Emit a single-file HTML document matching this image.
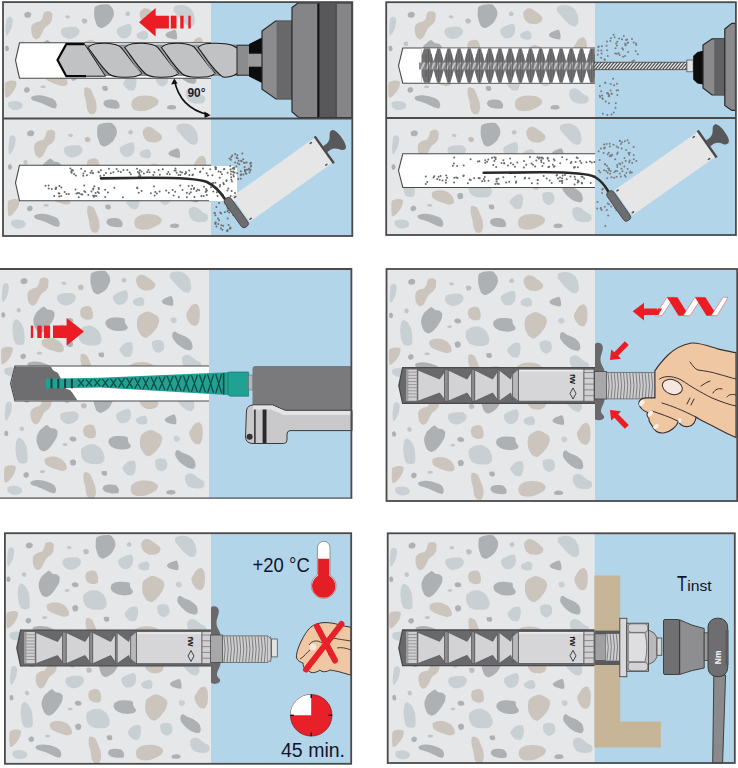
<!DOCTYPE html>
<html><head><meta charset="utf-8"><style>
html,body{margin:0;padding:0;background:#fff;width:738px;height:768px;overflow:hidden}
svg{display:block}
text{font-family:"Liberation Sans",sans-serif}
</style></head><body>
<svg width="738" height="768" viewBox="0 0 738 768">
<defs>
<g id="tile">
<path d="M5.0 17.1C5.5 16.3 8.2 15.7 8.8 15.9C9.5 16.2 10.6 18.0 10.7 19.2C10.8 20.4 10.1 24.8 9.7 26.3C9.3 27.8 7.7 31.0 7.1 32.0C6.5 33.0 5.0 35.0 4.6 34.9C4.1 34.7 3.6 32.0 3.6 30.6C3.5 29.2 3.8 24.3 4.0 22.8C4.1 21.2 4.4 17.9 5.0 17.1Z" fill="#c8d0d4"/>
<path d="M22.8 12.1C23.2 11.5 25.6 10.6 26.3 10.7C27.1 10.7 28.9 12.0 29.2 12.5C29.4 13.1 29.2 14.9 28.7 15.4C28.3 15.9 26.3 16.8 25.6 16.8C24.9 16.8 22.8 15.9 22.5 15.4C22.1 14.8 22.3 12.6 22.8 12.1Z" fill="#aeb1b3"/>
<path d="M42.0 11.4C42.7 10.7 46.0 10.1 46.9 10.2C47.9 10.4 49.7 11.5 50.1 12.5C50.4 13.6 50.1 18.0 49.8 19.2C49.5 20.4 48.5 21.8 47.7 22.8C46.8 23.7 43.5 26.0 42.7 27.0C41.9 28.0 41.1 30.2 40.5 31.3C40.0 32.4 38.4 35.4 37.7 36.3C37.0 37.1 35.0 38.5 34.1 38.4C33.3 38.3 31.2 36.6 30.6 35.6C30.0 34.5 29.2 30.5 29.2 29.2C29.1 27.8 29.3 25.1 29.9 24.2C30.5 23.3 33.1 21.8 34.1 21.3C35.1 20.8 37.7 20.5 38.4 19.9C39.2 19.3 40.1 17.4 40.5 16.4C41.0 15.4 41.2 12.1 42.0 11.4Z" fill="#cbc5be"/>
<path d="M63.3 14.9C63.6 14.6 65.6 14.1 66.2 14.2C66.7 14.3 67.9 15.6 68.0 15.9C68.1 16.3 67.3 17.2 66.9 17.4C66.4 17.5 64.4 17.4 64.0 17.1C63.6 16.8 63.1 15.3 63.3 14.9Z" fill="#c3c6c8"/>
<path d="M79.7 18.5C79.9 17.9 82.6 17.3 83.2 17.4C83.9 17.4 85.2 18.7 85.4 19.2C85.5 19.8 85.1 21.7 84.6 22.1C84.2 22.4 81.7 22.9 81.1 22.5C80.5 22.1 79.4 19.1 79.7 18.5Z" fill="#c2bdb8"/>
<path d="M93.2 5.7C94.1 5.0 98.0 3.8 99.6 3.6C101.2 3.4 105.5 3.0 106.8 3.6C108.1 4.2 110.5 7.3 111.1 8.5C111.7 9.7 112.1 12.7 111.8 14.2C111.5 15.7 109.2 20.1 108.3 21.3C107.4 22.5 105.0 24.2 104.0 24.9C103.0 25.6 100.6 27.0 99.6 27.0C98.6 27.0 96.1 26.1 95.3 24.9C94.5 23.7 92.9 18.8 92.5 17.1C92.1 15.4 92.1 11.3 92.2 10.0C92.3 8.7 92.3 6.4 93.2 5.7Z" fill="#aeb1b3"/>
<path d="M59.8 27.7C60.5 27.0 63.8 26.1 65.4 25.9C67.1 25.7 72.6 25.5 74.0 25.9C75.4 26.3 77.3 28.2 77.5 29.2C77.8 30.1 76.9 33.2 76.1 34.1C75.4 35.1 72.3 36.8 71.1 37.3C70.0 37.7 67.3 38.3 66.2 38.1C65.0 37.9 62.0 36.3 61.2 35.6C60.3 34.9 59.2 32.9 59.0 32.0C58.9 31.1 59.0 28.5 59.8 27.7Z" fill="#c8d0d4"/>
<path d="M18.5 41.3C18.8 40.8 20.8 40.4 21.3 40.5C21.8 40.7 22.7 42.1 22.8 42.7C22.8 43.2 22.1 45.0 21.6 45.2C21.2 45.4 19.1 44.9 18.8 44.4C18.4 43.9 18.2 41.7 18.5 41.3Z" fill="#c3c6c8"/>
<path d="M3.1 45.8C3.4 45.2 5.2 44.6 5.7 44.8C6.2 45.0 7.1 47.0 7.1 47.7C7.1 48.3 6.4 49.8 6.0 50.1C5.6 50.3 3.9 50.3 3.6 49.8C3.2 49.3 2.9 46.4 3.1 45.8Z" fill="#aeb1b3"/>
<path d="M37.7 45.5C38.4 44.4 40.3 42.7 41.3 42.0C42.2 41.2 44.6 39.1 45.5 39.1C46.4 39.1 48.2 41.6 49.1 42.0C50.0 42.4 52.5 42.3 53.4 42.7C54.2 43.1 55.9 44.5 56.2 45.5C56.4 46.5 56.1 49.7 55.5 51.2C54.9 52.7 52.2 56.9 51.2 58.3C50.2 59.7 47.9 62.5 46.9 63.3C46.0 64.1 43.7 65.4 42.7 65.4C41.7 65.4 39.2 64.3 38.4 63.3C37.6 62.3 35.9 58.3 35.6 56.9C35.2 55.5 35.0 52.5 35.3 51.2C35.5 49.9 37.0 46.6 37.7 45.5Z" fill="#aeb1b3"/>
<path d="M83.2 40.5C84.0 39.8 87.1 38.8 88.2 38.7C89.3 38.6 91.7 39.0 92.5 39.8C93.2 40.6 94.4 44.2 94.6 45.5C94.8 46.9 94.6 50.4 93.9 51.2C93.1 52.0 89.5 52.5 88.2 52.4C87.0 52.2 84.0 50.7 83.2 49.8C82.5 48.9 81.8 45.9 81.8 44.8C81.8 43.7 82.5 41.3 83.2 40.5Z" fill="#cbc5be"/>
<path d="M68.6 51.5C69.0 51.1 71.1 50.5 71.8 50.5C72.6 50.6 74.4 51.4 74.7 51.9C75.0 52.4 75.1 54.4 74.7 54.8C74.3 55.2 71.8 55.6 71.1 55.5C70.4 55.4 68.9 54.5 68.6 54.1C68.3 53.6 68.2 51.9 68.6 51.5Z" fill="#aeb1b3"/>
<path d="M61.5 58.0C61.7 57.7 63.5 57.2 64.0 57.2C64.6 57.2 66.1 58.0 66.2 58.3C66.2 58.7 65.2 59.9 64.7 60.0C64.2 60.2 62.3 60.0 61.9 59.8C61.5 59.5 61.2 58.3 61.5 58.0Z" fill="#c3c6c8"/>
<path d="M15.4 54.1C15.7 53.3 17.0 51.8 17.8 51.9C18.6 52.0 21.2 53.7 22.1 54.8C22.9 55.9 24.8 59.4 25.3 61.2C25.8 62.9 26.3 68.0 26.3 69.7C26.4 71.5 26.3 75.2 25.9 76.1C25.5 77.0 23.7 77.5 22.8 77.5C21.8 77.6 18.6 77.4 17.8 76.8C17.0 76.2 16.1 74.1 15.6 72.6C15.2 71.1 14.4 65.7 14.2 64.0C14.1 62.4 14.4 59.5 14.5 58.3C14.6 57.2 15.0 54.8 15.4 54.1Z" fill="#c8d0d4"/>
<path d="M80.4 62.6C81.1 61.8 84.6 59.5 86.1 59.0C87.6 58.6 91.6 58.2 93.2 58.6C94.8 59.0 98.5 61.5 99.6 62.6C100.7 63.7 102.3 67.0 102.7 68.3C103.1 69.6 103.5 72.9 103.1 74.0C102.8 75.1 101.0 77.1 99.6 77.5C98.2 78.0 92.9 78.1 91.1 78.0C89.2 77.8 85.2 76.9 83.9 76.1C82.7 75.3 80.9 72.3 80.4 71.1C79.9 70.0 79.7 67.2 79.7 66.2C79.7 65.2 79.6 63.4 80.4 62.6Z" fill="#c8d0d4"/>
<path d="M43.4 73.3C43.9 72.4 47.0 71.1 48.4 70.8C49.8 70.6 54.0 70.8 55.5 71.1C57.0 71.5 60.1 73.1 61.2 74.0C62.3 74.8 64.2 77.2 64.7 78.2C65.2 79.3 65.9 82.4 65.4 83.2C65.0 84.0 62.5 85.1 61.2 85.1C59.8 85.1 55.6 83.7 54.1 83.2C52.6 82.8 49.5 81.7 48.4 81.1C47.2 80.5 44.7 79.2 44.1 78.2C43.5 77.3 42.9 74.1 43.4 73.3Z" fill="#cbc5be"/>
<path d="M69.0 74.7C69.4 74.2 71.6 73.2 72.3 73.3C72.9 73.4 74.5 74.7 74.7 75.4C74.9 76.1 74.5 78.5 74.0 79.0C73.5 79.5 71.0 79.8 70.4 79.7C69.8 79.5 69.2 78.1 69.0 77.5C68.8 77.0 68.6 75.2 69.0 74.7Z" fill="#aeb1b3"/>
<path d="M3.6 81.1C4.2 80.4 7.3 79.5 8.5 79.4C9.8 79.3 13.6 79.7 14.2 80.4C14.9 81.1 14.3 84.2 13.9 85.4C13.6 86.5 12.2 89.2 11.4 90.3C10.6 91.5 8.0 94.6 7.1 95.3C6.2 96.1 4.1 97.2 3.6 96.7C3.1 96.2 2.9 92.4 2.8 91.1C2.8 89.7 2.8 86.5 2.8 85.4C2.9 84.2 2.9 81.8 3.6 81.1Z" fill="#cbc5be"/>
<path d="M22.5 87.5C22.9 87.0 24.7 86.0 25.3 86.1C25.9 86.2 27.6 87.6 27.7 88.2C27.9 88.8 27.2 90.6 26.7 91.1C26.3 91.5 24.4 91.9 23.9 91.8C23.4 91.6 22.2 90.4 22.1 89.9C21.9 89.4 22.1 87.9 22.5 87.5Z" fill="#aeb1b3"/>
<path d="M38.4 85.4C38.6 85.0 40.6 84.2 41.3 84.2C41.9 84.2 43.7 85.0 43.8 85.4C44.0 85.7 43.2 86.9 42.7 87.1C42.2 87.3 40.0 87.3 39.6 87.1C39.1 86.9 38.2 85.7 38.4 85.4Z" fill="#c3c6c8"/>
<path d="M29.9 95.6C30.6 95.2 34.1 94.3 35.6 94.2C37.1 94.1 41.1 94.6 42.7 94.9C44.3 95.2 47.8 96.5 49.1 97.1C50.3 97.6 52.7 99.1 53.4 99.9C54.0 100.7 54.8 103.3 54.8 104.2C54.8 105.0 54.0 107.2 53.4 107.4C52.7 107.7 50.3 107.0 49.1 106.6C47.8 106.1 44.1 104.1 42.7 103.5C41.3 102.8 38.4 101.8 37.0 101.3C35.6 100.8 31.5 99.6 30.6 99.2C29.7 98.7 29.2 97.9 29.2 97.5C29.1 97.1 29.1 96.0 29.9 95.6Z" fill="#aeb1b3"/>
<path d="M82.5 87.1C82.9 86.3 84.6 86.2 85.4 86.4C86.1 86.5 88.2 87.5 88.9 88.5C89.7 89.5 91.2 93.5 91.8 94.9C92.3 96.3 93.6 99.1 93.9 100.6C94.2 102.1 94.8 106.3 94.6 107.7C94.4 109.1 93.2 112.1 92.5 112.7C91.7 113.3 89.0 113.5 88.2 113.1C87.4 112.7 85.9 110.6 85.4 109.1C84.9 107.7 84.3 102.4 83.9 100.6C83.6 98.8 82.4 95.1 82.2 93.5C82.1 91.9 82.2 87.9 82.5 87.1Z" fill="#cbc5be"/>
<path d="M100.3 85.7C100.6 85.2 103.2 85.0 103.9 85.2C104.5 85.5 105.9 87.3 106.0 87.8C106.1 88.4 105.1 89.8 104.6 89.9C104.0 90.1 101.5 89.7 101.0 89.2C100.5 88.7 100.0 86.1 100.3 85.7Z" fill="#aeb1b3"/>
<path d="M6.4 101.3C7.0 100.7 10.1 100.0 11.4 99.9C12.6 99.8 16.0 100.2 17.1 100.6C18.2 101.0 20.3 102.7 20.6 103.5C21.0 104.2 20.5 106.4 19.9 107.0C19.3 107.6 16.8 108.7 15.6 108.9C14.5 109.0 11.0 108.8 10.0 108.4C8.9 108.1 6.8 106.4 6.4 105.6C6.0 104.8 5.8 102.0 6.4 101.3Z" fill="#c8d0d4"/>
<path d="M101.5 103.0C101.3 102.2 102.1 100.2 103.0 99.6C103.9 99.1 107.4 98.5 108.8 98.5C110.2 98.5 113.6 98.8 114.6 99.4C115.6 99.9 117.2 102.4 117.5 103.3C117.8 104.2 117.5 106.7 116.8 107.2C116.0 107.7 112.4 107.7 111.0 107.6C109.5 107.5 105.6 106.7 104.4 106.2C103.3 105.6 101.7 103.8 101.5 103.0Z" fill="#aeb1b3"/>
<path d="M123.2 12.1C123.5 11.6 125.5 10.2 126.1 10.2C126.6 10.3 128.1 12.0 128.2 12.5C128.3 13.1 127.3 14.7 126.8 14.9C126.3 15.2 124.3 14.8 123.9 14.5C123.5 14.2 123.0 12.6 123.2 12.1Z" fill="#c3c6c8"/>
<path d="M138.1 10.7C138.6 9.8 140.8 7.7 141.7 7.4C142.6 7.1 144.7 7.3 146.0 7.8C147.2 8.4 151.1 11.1 152.4 12.1C153.6 13.1 156.5 15.4 156.9 16.4C157.3 17.4 156.6 19.8 155.9 20.6C155.2 21.4 152.2 22.8 150.9 23.0C149.7 23.3 146.5 23.1 145.3 22.8C144.0 22.4 141.1 20.8 140.3 19.9C139.4 19.0 138.1 16.0 137.9 14.9C137.6 13.9 137.7 11.5 138.1 10.7Z" fill="#cbc5be"/>
<path d="M172.3 5.7C173.0 5.0 176.6 4.1 178.0 4.0C179.4 3.9 183.1 4.4 184.4 5.0C185.7 5.5 188.4 7.5 189.4 8.5C190.3 9.6 191.8 12.7 192.2 14.2C192.6 15.7 193.2 20.0 192.9 21.3C192.7 22.6 191.0 25.0 190.1 25.3C189.2 25.7 186.3 24.9 185.1 24.2C183.8 23.5 180.6 20.4 179.4 19.2C178.2 18.0 176.0 15.3 175.1 14.2C174.2 13.1 171.9 11.0 171.6 10.0C171.2 9.0 171.5 6.4 172.3 5.7Z" fill="#c8d0d4"/>
<path d="M115.4 27.7C116.1 27.0 119.7 25.1 121.1 24.5C122.5 23.9 126.5 22.5 127.5 22.8C128.5 23.0 129.4 25.2 129.6 26.3C129.8 27.5 129.4 31.5 128.9 32.7C128.4 33.9 126.4 36.2 125.3 36.7C124.3 37.2 120.7 37.6 119.6 37.3C118.6 37.0 116.7 34.9 116.1 34.1C115.5 33.4 114.8 31.3 114.7 30.6C114.6 29.8 114.6 28.5 115.4 27.7Z" fill="#c8d0d4"/>
<path d="M134.6 33.4C134.9 32.7 137.8 31.0 138.9 30.6C139.9 30.2 143.0 29.5 143.8 29.9C144.7 30.2 145.8 32.5 146.0 33.4C146.1 34.3 145.8 37.1 145.3 37.7C144.7 38.3 142.1 38.7 141.0 38.7C139.9 38.6 136.8 37.9 136.0 37.3C135.3 36.7 134.3 34.2 134.6 33.4Z" fill="#c8d0d4"/>
<path d="M163.5 33.4C163.7 32.8 166.2 31.1 167.3 30.6C168.4 30.0 172.1 28.5 173.0 28.7C173.9 29.0 174.6 31.6 174.8 32.7C175.1 33.8 175.3 37.5 174.8 38.1C174.4 38.8 172.0 38.3 170.9 38.1C169.7 37.9 166.0 36.8 165.2 36.3C164.3 35.7 163.2 34.1 163.5 33.4Z" fill="#aeb1b3"/>
<path d="M190.1 42.7C190.7 41.6 192.7 38.4 193.6 37.7C194.5 37.0 197.1 36.0 197.9 36.3C198.7 36.5 200.3 38.6 200.7 39.8C201.2 41.1 201.5 45.3 201.5 46.9C201.5 48.6 201.2 52.7 200.7 54.1C200.3 55.4 198.7 57.9 197.9 58.3C197.1 58.7 194.6 58.3 193.6 57.6C192.6 57.0 190.0 53.9 189.4 52.6C188.7 51.4 187.9 48.1 187.9 46.9C188.0 45.8 189.4 43.8 190.1 42.7Z" fill="#cbc5be"/>
<path d="M108.3 52.6C108.9 52.0 111.2 50.8 112.5 50.5C113.9 50.2 118.1 50.0 119.6 50.1C121.2 50.2 125.2 50.6 126.1 51.2C126.9 51.8 126.3 54.5 126.8 55.5C127.2 56.5 129.5 58.9 129.6 59.8C129.7 60.6 128.5 62.1 127.5 62.6C126.5 63.1 122.6 63.7 121.1 63.7C119.5 63.7 115.4 63.1 114.0 62.6C112.5 62.1 109.8 60.5 109.0 59.8C108.2 59.0 107.2 57.0 107.1 56.2C107.0 55.4 107.6 53.3 108.3 52.6Z" fill="#aeb1b3"/>
<path d="M139.6 49.8C140.2 48.6 142.7 46.9 143.8 46.2C145.0 45.6 148.3 44.2 149.5 44.1C150.8 44.1 153.3 45.2 154.5 45.8C155.7 46.4 158.7 48.2 159.5 49.1C160.2 50.0 161.0 52.1 160.9 53.4C160.8 54.6 159.6 58.3 158.8 59.8C157.9 61.2 155.0 64.9 153.8 66.2C152.5 67.4 149.3 70.2 148.1 70.4C146.9 70.7 144.1 69.2 143.1 68.3C142.1 67.4 140.1 64.0 139.6 62.6C139.0 61.2 138.6 57.7 138.6 56.2C138.6 54.7 139.0 51.0 139.6 49.8Z" fill="#cbc5be"/>
<path d="M172.3 51.2C172.5 50.6 174.5 49.8 175.1 49.8C175.8 49.8 177.6 50.7 178.0 51.2C178.3 51.7 178.5 53.5 178.3 54.1C178.0 54.6 176.5 55.7 175.8 55.8C175.2 55.9 173.4 55.3 173.0 54.8C172.6 54.2 172.0 51.8 172.3 51.2Z" fill="#c8d0d4"/>
<path d="M174.4 65.4C174.7 64.8 175.7 63.9 176.6 64.0C177.4 64.2 180.2 66.2 181.5 66.9C182.9 67.5 186.6 68.9 187.9 69.7C189.3 70.5 192.2 72.8 192.9 74.0C193.7 75.1 194.4 78.6 194.3 79.7C194.3 80.7 193.1 82.6 192.2 82.8C191.3 83.0 187.8 82.3 186.5 81.8C185.2 81.3 182.0 79.2 180.8 78.2C179.7 77.3 177.4 75.0 176.6 74.0C175.8 73.0 174.2 70.7 174.0 69.7C173.7 68.7 174.1 66.1 174.4 65.4Z" fill="#aeb1b3"/>
<path d="M122.5 79.7C123.2 78.8 126.2 75.9 127.5 75.4C128.7 74.9 132.3 74.6 133.2 75.1C134.0 75.6 134.5 78.5 134.6 79.7C134.7 80.9 134.2 84.2 133.9 85.4C133.5 86.5 132.6 88.9 131.7 89.3C130.9 89.8 127.8 89.7 126.8 89.3C125.8 89.0 123.9 86.9 123.2 86.1C122.5 85.3 121.2 83.3 121.1 82.5C121.0 81.8 121.7 80.5 122.5 79.7Z" fill="#c8d0d4"/>
<path d="M153.8 74.7C154.2 73.7 156.9 72.7 158.1 72.6C159.2 72.4 162.8 72.7 163.8 73.3C164.7 73.8 165.7 76.5 165.9 77.5C166.1 78.6 165.8 81.6 165.2 82.5C164.6 83.4 161.8 85.1 160.9 85.4C160.0 85.6 158.1 85.1 157.4 84.6C156.6 84.2 154.9 82.3 154.5 81.1C154.1 79.9 153.4 75.7 153.8 74.7Z" fill="#c8d0d4"/>
<path d="M184.2 89.5C184.8 88.6 187.6 87.4 188.6 87.3C189.6 87.2 191.9 88.2 192.9 88.8C194.0 89.4 196.2 91.6 197.3 92.4C198.4 93.2 201.7 94.5 202.4 95.3C203.0 96.1 203.3 98.8 203.1 99.6C202.8 100.5 201.4 101.9 200.2 102.3C199.0 102.6 194.5 102.8 192.9 102.5C191.4 102.3 188.2 101.2 187.1 100.4C186.1 99.5 184.3 96.6 184.0 95.3C183.6 94.0 183.7 90.4 184.2 89.5Z" fill="#c8d0d4"/>
<path d="M130.5 98.9C131.4 97.9 134.7 95.8 136.3 95.3C138.0 94.8 143.2 94.5 145.0 94.6C146.9 94.7 150.9 95.4 152.3 96.0C153.7 96.6 156.3 98.7 156.6 99.6C157.0 100.6 156.0 103.1 155.2 104.0C154.4 104.9 150.8 106.9 149.4 107.6C148.0 108.3 145.1 109.5 143.6 109.8C142.1 110.1 137.8 110.3 136.3 110.1C134.9 109.9 132.1 109.1 131.3 108.3C130.5 107.6 129.5 105.1 129.4 104.0C129.3 102.9 129.7 99.9 130.5 98.9Z" fill="#cbc5be"/>
<path d="M165.3 105.4C165.7 105.0 168.0 104.1 169.0 104.0C169.9 103.9 172.7 104.3 173.3 104.7C173.9 105.1 174.5 107.2 174.0 107.6C173.6 108.1 170.7 108.6 169.7 108.6C168.7 108.7 166.1 108.4 165.6 108.1C165.1 107.7 165.0 105.9 165.3 105.4Z" fill="#aeb1b3"/>
<path d="M104.0 85.4C104.1 85.0 105.0 84.8 105.1 85.1C105.3 85.3 105.6 87.1 105.4 87.5C105.3 87.9 104.2 88.5 104.0 88.2C103.8 88.0 103.9 85.7 104.0 85.4Z" fill="#aeb1b3"/></g>
<g id="tex"><use href="#tile"/><use href="#tile" transform="translate(3 118.5)"/></g>
</defs>
<clipPath id="c1a"><rect x="3" y="3" width="208" height="115"/></clipPath>
<rect x="3" y="3" width="208" height="115" fill="#e6e7e9"/>
<g clip-path="url(#c1a)"><use href="#tex" transform="translate(2 1)"/></g>
<rect x="211" y="3" width="141" height="115" fill="#b3d5e9"/>
<clipPath id="c1b"><rect x="3" y="119" width="208" height="117"/></clipPath>
<rect x="3" y="119" width="208" height="117" fill="#e6e7e9"/>
<g clip-path="url(#c1b)"><use href="#tex" transform="translate(2 1)"/></g>
<rect x="211" y="119" width="141" height="117" fill="#b3d5e9"/>
<clipPath id="c2a"><rect x="387" y="3" width="208" height="115"/></clipPath>
<rect x="387" y="3" width="208" height="115" fill="#e6e7e9"/>
<g clip-path="url(#c2a)"><use href="#tex" transform="translate(385.5 1)"/></g>
<rect x="595" y="3" width="141" height="115" fill="#b3d5e9"/>
<clipPath id="c2b"><rect x="387" y="119" width="208" height="116"/></clipPath>
<rect x="387" y="119" width="208" height="116" fill="#e6e7e9"/>
<g clip-path="url(#c2b)"><use href="#tex" transform="translate(385.5 1)"/></g>
<rect x="595" y="119" width="141" height="116" fill="#b3d5e9"/>
<clipPath id="c3"><rect x="0" y="270" width="209" height="228"/></clipPath>
<rect x="0" y="270" width="209" height="228" fill="#e6e7e9"/>
<g clip-path="url(#c3)"><use href="#tex" transform="translate(-1.6999999999999886 267.4)"/></g>
<rect x="209" y="270" width="142" height="228" fill="#b3d5e9"/>
<clipPath id="c4"><rect x="387" y="270" width="208" height="231"/></clipPath>
<rect x="387" y="270" width="208" height="231" fill="#e6e7e9"/>
<g clip-path="url(#c4)"><use href="#tex" transform="translate(386 268)"/></g>
<rect x="595" y="270" width="142" height="231" fill="#b3d5e9"/>
<clipPath id="c5"><rect x="5" y="534" width="206" height="229"/></clipPath>
<rect x="5" y="534" width="206" height="229" fill="#e6e7e9"/>
<g clip-path="url(#c5)"><use href="#tex" transform="translate(3.5 531.7)"/></g>
<rect x="211" y="534" width="140" height="229" fill="#b3d5e9"/>
<clipPath id="c6"><rect x="388" y="534" width="206.5" height="229"/></clipPath>
<rect x="388" y="534" width="206.5" height="229" fill="#e6e7e9"/>
<g clip-path="url(#c6)"><use href="#tex" transform="translate(386.3 531.8)"/></g>
<rect x="594.5" y="534" width="140" height="229" fill="#b3d5e9"/>
<path d="M211 42.8 L19.5 42.8 L15.5 60.3 L19.5 78.2 L211 78.2" fill="#fff" stroke="#4a4a4c" stroke-width="1.1"/>
<path d="M84 44.6 L236 44.6 L243 60 L238 76 L84 76 Z" fill="#8e8f91"/><path d="M88 47.5 C92 43.2 98 43 106 43.2 C111.7 43.4 117.7 44.5 120.7 47.2 C127.7 55 134.7 66 141.7 73.3 C137.7 77.3 131.7 77.4 123.69999999999999 77.3 C119 77.2 112 76.5 109 74 C100 66 94 55 88 47.5 Z" fill="#c1c2c4" stroke="#1a1a1a" stroke-width="1.05"/><path d="M124.7 47.5 C128.7 43.2 134.7 43 142.7 43.2 C148.4 43.4 154.4 44.5 157.4 47.2 C164.4 55 171.4 66 178.4 73.3 C174.4 77.3 168.4 77.4 160.4 77.3 C155.7 77.2 148.7 76.5 145.7 74 C136.7 66 130.7 55 124.7 47.5 Z" fill="#c1c2c4" stroke="#1a1a1a" stroke-width="1.05"/><path d="M161.4 47.5 C165.4 43.2 171.4 43 179.4 43.2 C185.1 43.4 191.1 44.5 194.1 47.2 C201.1 55 208.1 66 215.1 73.3 C211.1 77.3 205.1 77.4 197.1 77.3 C192.4 77.2 185.4 76.5 182.4 74 C173.4 66 167.4 55 161.4 47.5 Z" fill="#c1c2c4" stroke="#1a1a1a" stroke-width="1.05"/><path d="M198.1 47.5 C202.1 43.2 208.1 43 216.1 43.2 C228.1 43.4 236.1 45 240.6 52 C243.1 57 243.1 65 240.1 70 C236.1 76 231.1 77.3 224.1 77.2 C222.1 77.2 222.1 76.5 219.1 74 C210.1 66 204.1 55 198.1 47.5 Z" fill="#c1c2c4" stroke="#1a1a1a" stroke-width="1.05"/><path d="M85.2 46 C92 55 98 65 104.5 74" fill="none" stroke="#a9aaac" stroke-width="1"/><path d="M121.9 46 C128.7 55 134.7 65 141.2 74" fill="none" stroke="#a9aaac" stroke-width="1"/><path d="M158.6 46 C165.4 55 171.4 65 177.9 74" fill="none" stroke="#a9aaac" stroke-width="1"/><path d="M195.29999999999998 46 C202.1 55 208.1 65 214.6 74" fill="none" stroke="#a9aaac" stroke-width="1"/><path d="M57.5 60 L66.3 44.2 L84.5 44.2 C90 52 96 62 105.5 76.2 L66.3 76.2 Z" fill="#c1c2c4" stroke="#1a1a1a" stroke-width="1"/><path d="M84.5 44.2 L66.3 44.2 L57.5 60 L66.3 76.2 L86 76.2" fill="none" stroke="#0a0a0a" stroke-width="2.2" stroke-linejoin="miter"/>
<rect x="237" y="45.2" width="12.5" height="30" fill="#8b8c8e" stroke="#222" stroke-width="1"/>
<path d="M249 44 L262 37.4 L262 83 L249 76.4 Z" fill="#0c0c0c"/>
<rect x="248" y="53.7" width="14" height="13" fill="#9a9a9c"/>
<path d="M262 31 L275.5 21 L292 21 L292 99 L276 99 L262 89.3 Z" fill="#8c8c8e" stroke="#2a2a2a" stroke-width="1.2"/>
<path d="M276.6 21.6 L291.4 21.6 L291.4 98.4 L276.6 98.4 Z" fill="#68686a"/>
<path d="M292 7.5 L298 3 L352 3 L352 117.5 L298.5 117.5 L292 111.7 Z" fill="#858587" stroke="#2a2a2a" stroke-width="1.2"/>
<rect x="317.3" y="3.5" width="2.4" height="113.5" fill="#111"/>
<rect x="319.7" y="3.5" width="16" height="113.5" fill="#58585a"/>
<rect x="335.6" y="3.5" width="1" height="113.5" fill="#333"/>
<g fill="#ec1c24"><path d="M139 22.3 L155.6 8.1 L155.6 15.7 L168.9 15.7 L168.9 28.5 L155.6 28.5 L155.6 36.5 Z"/><rect x="170.8" y="15.7" width="5.7" height="12.8"/><rect x="180.3" y="15.7" width="3.3" height="12.8"/><rect x="188.3" y="15.7" width="2.4" height="12.8"/></g>
<path d="M174.5 80.5 Q180 108 208 114.6" fill="none" stroke="#111" stroke-width="1.6"/>
<path d="M174.2 78.6 L171.2 84.5 L177.6 83.6 Z" fill="#111"/><path d="M210.6 115.3 L204.4 111.6 L204.6 117.9 Z" fill="#111"/>
<text x="187.5" y="96.6" font-size="13.5" font-weight="bold" fill="#1d1d33" textLength="18" lengthAdjust="spacingAndGlyphs">90°</text>
<path d="M211 165.3 L19.5 165.3 L15.5 182.8 L19.5 200.7 L211 200.7" fill="#fff" stroke="#4a4a4c" stroke-width="1.1"/>
<rect x="209" y="166" width="28" height="35" fill="#fff"/>
<g fill="#69696b"><circle cx="86.9" cy="175.3" r="1.0"/><circle cx="175.7" cy="170.5" r="1.0"/><circle cx="137.9" cy="172.1" r="1.0"/><circle cx="159.9" cy="174.8" r="1.0"/><circle cx="81.2" cy="168.7" r="1.0"/><circle cx="185.8" cy="172.0" r="1.0"/><circle cx="175.5" cy="168.5" r="1.0"/><circle cx="130.8" cy="174.3" r="1.0"/><circle cx="100.3" cy="176.1" r="1.0"/><circle cx="195.1" cy="168.7" r="1.0"/><circle cx="71.6" cy="172.8" r="1.0"/><circle cx="200.4" cy="171.5" r="1.0"/><circle cx="98.5" cy="171.9" r="1.0"/><circle cx="72.1" cy="170.3" r="1.0"/><circle cx="129.7" cy="172.5" r="1.0"/><circle cx="100.9" cy="170.3" r="1.0"/><circle cx="98.8" cy="172.2" r="1.0"/><circle cx="108.9" cy="168.7" r="1.0"/><circle cx="186.1" cy="173.0" r="1.0"/><circle cx="158.6" cy="170.0" r="1.0"/><circle cx="207.9" cy="175.4" r="1.0"/><circle cx="85.0" cy="171.2" r="1.0"/><circle cx="169.7" cy="174.2" r="1.0"/><circle cx="200.0" cy="171.9" r="1.0"/><circle cx="185.0" cy="173.9" r="1.0"/><circle cx="110.8" cy="173.2" r="1.0"/><circle cx="192.4" cy="175.3" r="1.0"/><circle cx="139.2" cy="173.2" r="1.0"/><circle cx="72.9" cy="170.4" r="1.0"/><circle cx="180.4" cy="171.8" r="1.0"/><circle cx="92.4" cy="172.9" r="1.0"/><circle cx="167.1" cy="173.9" r="1.0"/><circle cx="120.8" cy="172.0" r="1.0"/><circle cx="139.7" cy="174.7" r="1.0"/><circle cx="141.5" cy="171.6" r="1.0"/><circle cx="137.0" cy="168.7" r="1.0"/><circle cx="74.1" cy="174.1" r="1.0"/><circle cx="206.6" cy="173.2" r="1.0"/><circle cx="123.5" cy="169.9" r="1.0"/><circle cx="138.8" cy="176.4" r="1.0"/><circle cx="176.6" cy="172.8" r="1.0"/><circle cx="189.3" cy="170.4" r="1.0"/><circle cx="140.4" cy="176.1" r="1.0"/><circle cx="149.5" cy="172.2" r="1.0"/><circle cx="106.0" cy="172.9" r="1.0"/><circle cx="203.0" cy="168.5" r="1.0"/><circle cx="178.5" cy="175.1" r="1.0"/><circle cx="193.0" cy="174.4" r="1.0"/><circle cx="182.1" cy="172.6" r="1.0"/><circle cx="147.2" cy="171.9" r="1.0"/><circle cx="75.9" cy="175.5" r="1.0"/><circle cx="148.4" cy="170.1" r="1.0"/><circle cx="139.2" cy="172.4" r="1.0"/><circle cx="118.3" cy="171.3" r="1.0"/><circle cx="143.9" cy="173.5" r="1.0"/><circle cx="154.4" cy="172.2" r="1.0"/><circle cx="71.9" cy="170.3" r="1.0"/><circle cx="93.0" cy="173.2" r="1.0"/><circle cx="189.4" cy="174.9" r="1.0"/><circle cx="180.4" cy="175.0" r="1.0"/><circle cx="104.0" cy="175.2" r="1.0"/><circle cx="162.9" cy="169.2" r="1.0"/><circle cx="70.4" cy="168.6" r="1.0"/><circle cx="174.5" cy="170.5" r="1.0"/><circle cx="83.4" cy="173.5" r="1.0"/><circle cx="116.6" cy="169.1" r="1.0"/><circle cx="90.5" cy="172.7" r="1.0"/><circle cx="91.7" cy="170.7" r="1.0"/><circle cx="168.3" cy="172.1" r="1.0"/><circle cx="113.4" cy="172.3" r="1.0"/><circle cx="71.3" cy="171.6" r="1.0"/><circle cx="127.3" cy="170.0" r="1.0"/><circle cx="83.3" cy="175.7" r="1.0"/><circle cx="139.9" cy="170.2" r="1.0"/><circle cx="153.4" cy="175.0" r="1.0"/></g>
<g fill="#69696b"><circle cx="45.5" cy="185.7" r="1.0"/><circle cx="66.5" cy="194.1" r="1.0"/><circle cx="68.8" cy="194.0" r="1.0"/><circle cx="155.3" cy="192.0" r="1.0"/><circle cx="78.8" cy="197.2" r="1.0"/><circle cx="175.2" cy="191.7" r="1.0"/><circle cx="79.3" cy="193.3" r="1.0"/><circle cx="107.9" cy="192.4" r="1.0"/><circle cx="95.6" cy="193.1" r="1.0"/><circle cx="51.8" cy="189.1" r="1.0"/><circle cx="203.6" cy="196.0" r="1.0"/><circle cx="93.2" cy="195.8" r="1.0"/><circle cx="93.8" cy="196.8" r="1.0"/><circle cx="166.2" cy="190.5" r="1.0"/><circle cx="84.1" cy="185.6" r="1.0"/><circle cx="188.7" cy="186.0" r="1.0"/><circle cx="178.8" cy="197.0" r="1.0"/><circle cx="137.2" cy="187.6" r="1.0"/><circle cx="186.9" cy="197.2" r="1.0"/><circle cx="159.6" cy="191.6" r="1.0"/><circle cx="105.1" cy="189.7" r="1.0"/><circle cx="76.4" cy="193.6" r="1.0"/><circle cx="114.3" cy="187.8" r="1.0"/><circle cx="59.4" cy="193.5" r="1.0"/><circle cx="91.4" cy="191.5" r="1.0"/><circle cx="96.3" cy="196.0" r="1.0"/><circle cx="192.2" cy="185.7" r="1.0"/><circle cx="75.5" cy="189.4" r="1.0"/><circle cx="206.8" cy="194.9" r="1.0"/><circle cx="98.6" cy="188.1" r="1.0"/><circle cx="154.6" cy="195.6" r="1.0"/><circle cx="197.7" cy="189.6" r="1.0"/><circle cx="189.4" cy="193.7" r="1.0"/><circle cx="122.9" cy="197.3" r="1.0"/><circle cx="81.2" cy="194.2" r="1.0"/><circle cx="56.1" cy="187.5" r="1.0"/><circle cx="194.1" cy="188.1" r="1.0"/><circle cx="168.8" cy="192.7" r="1.0"/><circle cx="182.5" cy="189.9" r="1.0"/><circle cx="98.8" cy="189.0" r="1.0"/><circle cx="186.9" cy="192.7" r="1.0"/><circle cx="201.4" cy="196.1" r="1.0"/><circle cx="64.6" cy="192.1" r="1.0"/><circle cx="59.4" cy="186.0" r="1.0"/><circle cx="54.2" cy="195.9" r="1.0"/><circle cx="173.6" cy="195.4" r="1.0"/><circle cx="98.9" cy="192.9" r="1.0"/><circle cx="172.6" cy="190.0" r="1.0"/><circle cx="137.3" cy="188.2" r="1.0"/><circle cx="55.7" cy="188.7" r="1.0"/><circle cx="190.8" cy="192.3" r="1.0"/><circle cx="196.5" cy="191.0" r="1.0"/><circle cx="88.3" cy="194.9" r="1.0"/><circle cx="180.2" cy="185.6" r="1.0"/><circle cx="154.0" cy="186.6" r="1.0"/><circle cx="61.2" cy="196.1" r="1.0"/><circle cx="48.7" cy="188.4" r="1.0"/><circle cx="207.0" cy="190.6" r="1.0"/><circle cx="61.3" cy="187.5" r="1.0"/><circle cx="82.3" cy="194.4" r="1.0"/><circle cx="59.2" cy="196.4" r="1.0"/><circle cx="105.2" cy="197.1" r="1.0"/><circle cx="193.8" cy="189.0" r="1.0"/><circle cx="84.3" cy="191.2" r="1.0"/><circle cx="58.7" cy="193.3" r="1.0"/><circle cx="48.6" cy="185.6" r="1.0"/><circle cx="206.1" cy="189.0" r="1.0"/><circle cx="141.6" cy="190.9" r="1.0"/><circle cx="94.3" cy="186.3" r="1.0"/><circle cx="194.5" cy="197.1" r="1.0"/><circle cx="204.0" cy="186.8" r="1.0"/><circle cx="77.9" cy="192.9" r="1.0"/><circle cx="205.7" cy="192.0" r="1.0"/><circle cx="156.9" cy="193.4" r="1.0"/><circle cx="85.3" cy="192.0" r="1.0"/><circle cx="93.3" cy="188.5" r="1.0"/><circle cx="55.6" cy="188.9" r="1.0"/><circle cx="206.2" cy="190.9" r="1.0"/><circle cx="150.9" cy="193.2" r="1.0"/><circle cx="199.1" cy="190.2" r="1.0"/><circle cx="93.2" cy="189.4" r="1.0"/><circle cx="94.9" cy="195.7" r="1.0"/><circle cx="191.2" cy="189.1" r="1.0"/><circle cx="97.8" cy="192.0" r="1.0"/><circle cx="138.7" cy="192.7" r="1.0"/></g>
<g fill="#69696b"><circle cx="215.6" cy="167.7" r="1.0"/><circle cx="215.6" cy="169.3" r="1.0"/><circle cx="223.9" cy="169.3" r="1.0"/><circle cx="211.0" cy="187.3" r="1.0"/><circle cx="216.9" cy="192.3" r="1.0"/><circle cx="222.3" cy="194.6" r="1.0"/><circle cx="213.2" cy="183.0" r="1.0"/><circle cx="230.5" cy="169.5" r="1.0"/><circle cx="234.6" cy="172.5" r="1.0"/><circle cx="230.0" cy="198.5" r="1.0"/><circle cx="231.2" cy="177.2" r="1.0"/><circle cx="211.9" cy="183.5" r="1.0"/><circle cx="233.8" cy="176.4" r="1.0"/><circle cx="233.1" cy="171.5" r="1.0"/><circle cx="233.6" cy="168.0" r="1.0"/><circle cx="217.5" cy="195.9" r="1.0"/><circle cx="230.7" cy="196.0" r="1.0"/><circle cx="231.7" cy="190.9" r="1.0"/><circle cx="227.6" cy="172.7" r="1.0"/><circle cx="220.7" cy="172.1" r="1.0"/><circle cx="228.3" cy="188.4" r="1.0"/><circle cx="215.8" cy="169.1" r="1.0"/><circle cx="235.0" cy="192.9" r="1.0"/><circle cx="223.8" cy="184.3" r="1.0"/><circle cx="232.0" cy="181.5" r="1.0"/><circle cx="219.7" cy="177.8" r="1.0"/><circle cx="216.0" cy="167.8" r="1.0"/><circle cx="226.5" cy="180.3" r="1.0"/><circle cx="224.4" cy="169.0" r="1.0"/><circle cx="218.6" cy="171.4" r="1.0"/><circle cx="212.4" cy="175.3" r="1.0"/><circle cx="231.4" cy="179.7" r="1.0"/><circle cx="219.8" cy="186.6" r="1.0"/><circle cx="215.3" cy="167.2" r="1.0"/><circle cx="223.3" cy="183.0" r="1.0"/><circle cx="226.5" cy="181.0" r="1.0"/><circle cx="227.5" cy="190.4" r="1.0"/><circle cx="215.4" cy="182.8" r="1.0"/><circle cx="221.9" cy="174.2" r="1.0"/><circle cx="220.1" cy="184.9" r="1.0"/><circle cx="233.5" cy="196.4" r="1.0"/><circle cx="216.4" cy="187.7" r="1.0"/><circle cx="210.3" cy="169.3" r="1.0"/><circle cx="222.8" cy="195.1" r="1.0"/><circle cx="213.3" cy="191.5" r="1.0"/></g>
<g fill="#6d6f73"><circle cx="237.1" cy="173.2" r="1.0"/><circle cx="248.1" cy="169.4" r="1.0"/><circle cx="231.3" cy="157.0" r="1.0"/><circle cx="232.5" cy="168.5" r="1.0"/><circle cx="246.4" cy="173.8" r="1.0"/><circle cx="236.4" cy="166.5" r="1.0"/><circle cx="230.9" cy="174.3" r="1.0"/><circle cx="250.2" cy="170.6" r="1.0"/><circle cx="245.8" cy="173.2" r="1.0"/><circle cx="250.1" cy="163.6" r="1.0"/><circle cx="230.9" cy="159.7" r="1.0"/><circle cx="244.0" cy="162.7" r="1.0"/><circle cx="229.5" cy="158.6" r="1.0"/><circle cx="233.4" cy="175.0" r="1.0"/><circle cx="244.8" cy="169.8" r="1.0"/><circle cx="234.5" cy="167.5" r="1.0"/><circle cx="234.2" cy="169.1" r="1.0"/><circle cx="233.5" cy="172.6" r="1.0"/><circle cx="240.7" cy="178.8" r="1.0"/><circle cx="249.1" cy="168.5" r="1.0"/><circle cx="237.5" cy="158.2" r="1.0"/><circle cx="230.1" cy="166.0" r="1.0"/><circle cx="243.2" cy="159.2" r="1.0"/><circle cx="241.1" cy="160.8" r="1.0"/><circle cx="239.3" cy="164.2" r="1.0"/><circle cx="235.1" cy="162.4" r="1.0"/><circle cx="249.5" cy="172.6" r="1.0"/><circle cx="240.8" cy="171.3" r="1.0"/><circle cx="237.3" cy="155.3" r="1.0"/><circle cx="250.9" cy="166.4" r="1.0"/><circle cx="251.0" cy="162.7" r="1.0"/><circle cx="235.2" cy="154.1" r="1.0"/><circle cx="244.6" cy="167.1" r="1.0"/><circle cx="237.7" cy="163.3" r="1.0"/><circle cx="238.2" cy="179.0" r="1.0"/><circle cx="243.5" cy="174.4" r="1.0"/><circle cx="240.8" cy="174.8" r="1.0"/><circle cx="245.2" cy="171.4" r="1.0"/><circle cx="244.9" cy="162.7" r="1.0"/><circle cx="244.9" cy="170.8" r="1.0"/><circle cx="250.5" cy="169.8" r="1.0"/><circle cx="236.5" cy="157.5" r="1.0"/><circle cx="242.3" cy="153.5" r="1.0"/><circle cx="251.0" cy="165.4" r="1.0"/><circle cx="241.3" cy="174.8" r="1.0"/><circle cx="238.7" cy="160.8" r="1.0"/><circle cx="246.7" cy="162.5" r="1.0"/><circle cx="246.7" cy="169.8" r="1.0"/><circle cx="232.3" cy="155.5" r="1.0"/><circle cx="241.7" cy="161.3" r="1.0"/><circle cx="241.3" cy="174.5" r="1.0"/><circle cx="231.1" cy="171.5" r="1.0"/></g>
<g fill="#6d6f73"><circle cx="219.0" cy="220.3" r="1.0"/><circle cx="218.0" cy="218.6" r="1.0"/><circle cx="216.5" cy="226.6" r="1.0"/><circle cx="234.5" cy="210.5" r="1.0"/><circle cx="230.4" cy="228.5" r="1.0"/><circle cx="228.2" cy="210.1" r="1.0"/><circle cx="223.2" cy="225.7" r="1.0"/><circle cx="232.4" cy="205.6" r="1.0"/><circle cx="228.3" cy="204.8" r="1.0"/><circle cx="227.8" cy="208.2" r="1.0"/><circle cx="225.7" cy="203.9" r="1.0"/><circle cx="215.6" cy="224.1" r="1.0"/><circle cx="221.4" cy="225.3" r="1.0"/><circle cx="218.3" cy="224.1" r="1.0"/><circle cx="230.7" cy="209.7" r="1.0"/><circle cx="214.8" cy="212.9" r="1.0"/><circle cx="224.8" cy="202.5" r="1.0"/><circle cx="227.5" cy="230.1" r="1.0"/><circle cx="230.3" cy="227.5" r="1.0"/><circle cx="220.9" cy="228.3" r="1.0"/><circle cx="215.1" cy="223.2" r="1.0"/><circle cx="214.5" cy="213.0" r="1.0"/><circle cx="224.9" cy="212.2" r="1.0"/><circle cx="216.4" cy="207.1" r="1.0"/><circle cx="233.3" cy="215.2" r="1.0"/><circle cx="227.1" cy="206.4" r="1.0"/><circle cx="230.6" cy="210.6" r="1.0"/><circle cx="227.4" cy="230.8" r="1.0"/><circle cx="220.3" cy="212.4" r="1.0"/><circle cx="227.1" cy="231.2" r="1.0"/><circle cx="222.4" cy="229.8" r="1.0"/><circle cx="231.7" cy="204.3" r="1.0"/><circle cx="215.8" cy="222.3" r="1.0"/><circle cx="215.4" cy="215.2" r="1.0"/><circle cx="219.1" cy="203.1" r="1.0"/><circle cx="228.6" cy="225.1" r="1.0"/><circle cx="229.9" cy="228.6" r="1.0"/><circle cx="229.2" cy="212.6" r="1.0"/><circle cx="228.7" cy="207.5" r="1.0"/><circle cx="227.4" cy="211.2" r="1.0"/><circle cx="227.7" cy="218.6" r="1.0"/><circle cx="225.6" cy="201.1" r="1.0"/><circle cx="221.2" cy="213.4" r="1.0"/></g>
<path d="M101 178.4 L150 177.8 Q196 177.8 207 182 Q217 187 225 199" fill="none" stroke="#2a2a2a" stroke-width="2.6" stroke-linecap="round"/>
<g transform="translate(240.8 209.3) rotate(-35.5)"><rect x="0" y="-15.4" width="102.5" height="30.8" fill="#e6e6e7"/><rect x="-9.5" y="-17.5" width="8" height="35" rx="3.5" fill="#6d6d6f" stroke="#444" stroke-width="0.8"/><line x1="102.5" y1="-16.5" x2="102.5" y2="16.5" stroke="#4a4a4c" stroke-width="2.4"/><path d="M103.5 -3.6 L108 -3.6 Q112.5 -4 115.5 -9 Q117.5 -12.2 120.5 -11.5 Q123.8 -10 123.8 0 Q123.8 10 120.5 11.5 Q117.5 12.2 115.5 9 Q112.5 4 108 3.6 L103.5 3.6 Z" fill="#58585a"/><g fill="#555"><rect x="94" y="-14.2" width="3" height="1.6" rx="0.8"/><rect x="94" y="12.6" width="3" height="1.6" rx="0.8"/><rect x="1" y="-14.2" width="3" height="1.6" rx="0.8"/><rect x="1" y="12.6" width="3" height="1.6" rx="0.8"/></g></g>
<path d="M595 48 L402.8 48 L398.5 65.8 L402.8 83.2 L595 83.2" fill="#fff" stroke="#4a4a4c" stroke-width="1.1"/>
<rect x="421.5" y="48.6" width="173.3" height="34.1" fill="#717173"/>
<g fill="#fff"><path d="M430.0 48.6 L437.2 48.6 L433.6 61.5 Z M430.0 82.7 L437.2 82.7 L433.6 70 Z"/><path d="M440.2 48.6 L447.4 48.6 L443.8 61.5 Z M440.2 82.7 L447.4 82.7 L443.8 70 Z"/><path d="M450.4 48.6 L457.6 48.6 L454.0 61.5 Z M450.4 82.7 L457.6 82.7 L454.0 70 Z"/><path d="M460.6 48.6 L467.8 48.6 L464.2 61.5 Z M460.6 82.7 L467.8 82.7 L464.2 70 Z"/><path d="M470.8 48.6 L478.0 48.6 L474.4 61.5 Z M470.8 82.7 L478.0 82.7 L474.4 70 Z"/><path d="M481.0 48.6 L488.2 48.6 L484.6 61.5 Z M481.0 82.7 L488.2 82.7 L484.6 70 Z"/><path d="M491.2 48.6 L498.4 48.6 L494.8 61.5 Z M491.2 82.7 L498.4 82.7 L494.8 70 Z"/><path d="M501.4 48.6 L508.6 48.6 L505.0 61.5 Z M501.4 82.7 L508.6 82.7 L505.0 70 Z"/><path d="M511.6 48.6 L518.8 48.6 L515.2 61.5 Z M511.6 82.7 L518.8 82.7 L515.2 70 Z"/><path d="M521.8 48.6 L529.0 48.6 L525.4 61.5 Z M521.8 82.7 L529.0 82.7 L525.4 70 Z"/><path d="M532.0 48.6 L539.2 48.6 L535.6 61.5 Z M532.0 82.7 L539.2 82.7 L535.6 70 Z"/><path d="M542.2 48.6 L549.4 48.6 L545.8 61.5 Z M542.2 82.7 L549.4 82.7 L545.8 70 Z"/><path d="M552.4 48.6 L559.6 48.6 L556.0 61.5 Z M552.4 82.7 L559.6 82.7 L556.0 70 Z"/><path d="M562.6 48.6 L569.8 48.6 L566.2 61.5 Z M562.6 82.7 L569.8 82.7 L566.2 70 Z"/><path d="M572.8 48.6 L580.0 48.6 L576.4 61.5 Z M572.8 82.7 L580.0 82.7 L576.4 70 Z"/><path d="M583.0 48.6 L590.2 48.6 L586.6 61.5 Z M583.0 82.7 L590.2 82.7 L586.6 70 Z"/></g>
<path d="M421.5 48.6 L424 48.6 L421.5 56 Z M421.5 82.7 L424 82.7 L421.5 75 Z" fill="#fff"/>
<rect x="419" y="62.5" width="176" height="7" fill="#8a8a8c"/>
<g fill="#c4c4c6"><path d="M420.0 69.5 L423.5 62.5 L425.5 62.5 L422.0 69.5 Z"/><path d="M425.1 69.5 L428.6 62.5 L430.6 62.5 L427.1 69.5 Z"/><path d="M430.2 69.5 L433.7 62.5 L435.7 62.5 L432.2 69.5 Z"/><path d="M435.3 69.5 L438.8 62.5 L440.8 62.5 L437.3 69.5 Z"/><path d="M440.4 69.5 L443.9 62.5 L445.9 62.5 L442.4 69.5 Z"/><path d="M445.5 69.5 L449.0 62.5 L451.0 62.5 L447.5 69.5 Z"/><path d="M450.6 69.5 L454.1 62.5 L456.1 62.5 L452.6 69.5 Z"/><path d="M455.7 69.5 L459.2 62.5 L461.2 62.5 L457.7 69.5 Z"/><path d="M460.8 69.5 L464.3 62.5 L466.3 62.5 L462.8 69.5 Z"/><path d="M465.9 69.5 L469.4 62.5 L471.4 62.5 L467.9 69.5 Z"/><path d="M471.0 69.5 L474.5 62.5 L476.5 62.5 L473.0 69.5 Z"/><path d="M476.1 69.5 L479.6 62.5 L481.6 62.5 L478.1 69.5 Z"/><path d="M481.2 69.5 L484.7 62.5 L486.7 62.5 L483.2 69.5 Z"/><path d="M486.3 69.5 L489.8 62.5 L491.8 62.5 L488.3 69.5 Z"/><path d="M491.4 69.5 L494.9 62.5 L496.9 62.5 L493.4 69.5 Z"/><path d="M496.5 69.5 L500.0 62.5 L502.0 62.5 L498.5 69.5 Z"/><path d="M501.6 69.5 L505.1 62.5 L507.1 62.5 L503.6 69.5 Z"/><path d="M506.7 69.5 L510.2 62.5 L512.2 62.5 L508.7 69.5 Z"/><path d="M511.8 69.5 L515.3 62.5 L517.3 62.5 L513.8 69.5 Z"/><path d="M516.9 69.5 L520.4 62.5 L522.4 62.5 L518.9 69.5 Z"/><path d="M522.0 69.5 L525.5 62.5 L527.5 62.5 L524.0 69.5 Z"/><path d="M527.1 69.5 L530.6 62.5 L532.6 62.5 L529.1 69.5 Z"/><path d="M532.2 69.5 L535.7 62.5 L537.7 62.5 L534.2 69.5 Z"/><path d="M537.3 69.5 L540.8 62.5 L542.8 62.5 L539.3 69.5 Z"/><path d="M542.4 69.5 L545.9 62.5 L547.9 62.5 L544.4 69.5 Z"/><path d="M547.5 69.5 L551.0 62.5 L553.0 62.5 L549.5 69.5 Z"/><path d="M552.6 69.5 L556.1 62.5 L558.1 62.5 L554.6 69.5 Z"/><path d="M557.7 69.5 L561.2 62.5 L563.2 62.5 L559.7 69.5 Z"/><path d="M562.8 69.5 L566.3 62.5 L568.3 62.5 L564.8 69.5 Z"/><path d="M567.9 69.5 L571.4 62.5 L573.4 62.5 L569.9 69.5 Z"/><path d="M573.0 69.5 L576.5 62.5 L578.5 62.5 L575.0 69.5 Z"/><path d="M578.1 69.5 L581.6 62.5 L583.6 62.5 L580.1 69.5 Z"/><path d="M583.2 69.5 L586.7 62.5 L588.7 62.5 L585.2 69.5 Z"/><path d="M588.3 69.5 L591.8 62.5 L593.8 62.5 L590.3 69.5 Z"/><path d="M593.4 69.5 L596.9 62.5 L598.9 62.5 L595.4 69.5 Z"/></g>
<g clip-path="url(#brc)" stroke="#5b5b5d" stroke-width="0.8"><path d="M428.5 49 L428.5 82.5 M426.0 54 L426.0 77 M431.0 54 L431.0 77"/><path d="M438.7 49 L438.7 82.5 M436.2 54 L436.2 77 M441.2 54 L441.2 77"/><path d="M448.9 49 L448.9 82.5 M446.4 54 L446.4 77 M451.4 54 L451.4 77"/><path d="M459.1 49 L459.1 82.5 M456.6 54 L456.6 77 M461.6 54 L461.6 77"/><path d="M469.3 49 L469.3 82.5 M466.8 54 L466.8 77 M471.8 54 L471.8 77"/><path d="M479.5 49 L479.5 82.5 M477.0 54 L477.0 77 M482.0 54 L482.0 77"/><path d="M489.7 49 L489.7 82.5 M487.2 54 L487.2 77 M492.2 54 L492.2 77"/><path d="M499.9 49 L499.9 82.5 M497.4 54 L497.4 77 M502.4 54 L502.4 77"/><path d="M510.1 49 L510.1 82.5 M507.6 54 L507.6 77 M512.6 54 L512.6 77"/><path d="M520.3 49 L520.3 82.5 M517.8 54 L517.8 77 M522.8 54 L522.8 77"/><path d="M530.5 49 L530.5 82.5 M528.0 54 L528.0 77 M533.0 54 L533.0 77"/><path d="M540.7 49 L540.7 82.5 M538.2 54 L538.2 77 M543.2 54 L543.2 77"/><path d="M550.9 49 L550.9 82.5 M548.4 54 L548.4 77 M553.4 54 L553.4 77"/><path d="M561.1 49 L561.1 82.5 M558.6 54 L558.6 77 M563.6 54 L563.6 77"/><path d="M571.3 49 L571.3 82.5 M568.8 54 L568.8 77 M573.8 54 L573.8 77"/><path d="M581.5 49 L581.5 82.5 M579.0 54 L579.0 77 M584.0 54 L584.0 77"/><path d="M591.7 49 L591.7 82.5 M589.2 54 L589.2 77 M594.2 54 L594.2 77"/></g>
<defs><clipPath id="brc"><rect x="421" y="48" width="174" height="35"/></clipPath></defs>
<defs><pattern id="twist" width="3.2" height="8" patternUnits="userSpaceOnUse" patternTransform="skewX(-40)"><rect width="3.2" height="8" fill="#e2e2e2"/><rect width="1.6" height="8" fill="#5a5a5c"/></pattern></defs>
<rect x="594" y="62.2" width="93" height="7.5" fill="url(#twist)" stroke="#444" stroke-width="0.8"/>
<rect x="686.9" y="60" width="6.3" height="11.8" fill="#e3e3e3" stroke="#555" stroke-width="0.8"/>
<path d="M693.2 56 L697.5 52 L703 50.7 L703 84.5 L697.5 83.5 L693.2 79.5 Z" fill="#0c0c0c"/>
<path d="M703 45.1 L712.1 38.8 L724.8 38.8 L724.8 95 L712.1 95 L703 88 Z" fill="#8a8a8c" stroke="#2a2a2a" stroke-width="1.2"/>
<rect x="714.3" y="39.4" width="10" height="55" fill="#626264"/>
<path d="M724.8 29 L731.8 23.3 L735.5 23.3 L735.5 110.4 L731.8 110.4 L724.8 105.5 Z" fill="#8a8a8c" stroke="#2a2a2a" stroke-width="1.2"/>
<g fill="#7b7d81"><circle cx="632.9" cy="61.7" r="1.0"/><circle cx="625.8" cy="45.0" r="1.0"/><circle cx="623.1" cy="56.7" r="1.0"/><circle cx="622.0" cy="39.2" r="1.0"/><circle cx="615.5" cy="48.3" r="1.0"/><circle cx="637.8" cy="54.2" r="1.0"/><circle cx="616.1" cy="43.5" r="1.0"/><circle cx="617.0" cy="45.4" r="1.0"/><circle cx="619.6" cy="54.9" r="1.0"/><circle cx="611.0" cy="38.3" r="1.0"/><circle cx="626.0" cy="40.1" r="1.0"/><circle cx="616.8" cy="53.7" r="1.0"/><circle cx="635.7" cy="51.0" r="1.0"/><circle cx="628.1" cy="52.0" r="1.0"/><circle cx="606.5" cy="45.7" r="1.0"/><circle cx="627.1" cy="39.5" r="1.0"/><circle cx="636.0" cy="43.5" r="1.0"/><circle cx="636.2" cy="45.1" r="1.0"/><circle cx="618.7" cy="53.2" r="1.0"/><circle cx="625.0" cy="55.9" r="1.0"/><circle cx="610.4" cy="41.1" r="1.0"/><circle cx="623.8" cy="35.9" r="1.0"/><circle cx="632.3" cy="61.3" r="1.0"/><circle cx="625.1" cy="43.7" r="1.0"/><circle cx="601.6" cy="53.4" r="1.0"/><circle cx="633.7" cy="42.5" r="1.0"/><circle cx="598.4" cy="47.1" r="1.0"/><circle cx="604.4" cy="59.2" r="1.0"/><circle cx="632.0" cy="39.1" r="1.0"/><circle cx="604.9" cy="60.0" r="1.0"/><circle cx="613.6" cy="34.7" r="1.0"/><circle cx="598.6" cy="46.4" r="1.0"/><circle cx="601.9" cy="46.2" r="1.0"/><circle cx="598.3" cy="50.5" r="1.0"/><circle cx="634.1" cy="60.5" r="1.0"/><circle cx="617.3" cy="41.8" r="1.0"/><circle cx="625.4" cy="45.3" r="1.0"/><circle cx="601.4" cy="50.5" r="1.0"/><circle cx="622.2" cy="48.3" r="1.0"/><circle cx="619.1" cy="38.6" r="1.0"/><circle cx="623.1" cy="49.4" r="1.0"/><circle cx="597.8" cy="54.8" r="1.0"/><circle cx="601.1" cy="57.8" r="1.0"/><circle cx="607.0" cy="50.3" r="1.0"/><circle cx="607.8" cy="56.1" r="1.0"/><circle cx="627.5" cy="43.0" r="1.0"/><circle cx="615.2" cy="53.5" r="1.0"/><circle cx="614.6" cy="37.3" r="1.0"/><circle cx="628.1" cy="42.4" r="1.0"/><circle cx="607.0" cy="41.5" r="1.0"/></g>
<g fill="#7b7d81"><circle cx="611.6" cy="93.4" r="1.0"/><circle cx="605.7" cy="101.5" r="1.0"/><circle cx="602.9" cy="113.7" r="1.0"/><circle cx="609.1" cy="95.5" r="1.0"/><circle cx="608.7" cy="96.2" r="1.0"/><circle cx="611.5" cy="114.4" r="1.0"/><circle cx="614.1" cy="85.3" r="1.0"/><circle cx="599.8" cy="86.1" r="1.0"/><circle cx="608.5" cy="94.3" r="1.0"/><circle cx="602.8" cy="99.1" r="1.0"/><circle cx="607.4" cy="115.0" r="1.0"/><circle cx="602.4" cy="98.3" r="1.0"/><circle cx="608.0" cy="93.3" r="1.0"/><circle cx="618.1" cy="90.2" r="1.0"/><circle cx="615.5" cy="107.8" r="1.0"/><circle cx="617.3" cy="94.9" r="1.0"/><circle cx="607.0" cy="93.0" r="1.0"/><circle cx="611.7" cy="94.0" r="1.0"/><circle cx="605.3" cy="82.7" r="1.0"/><circle cx="610.7" cy="83.9" r="1.0"/><circle cx="609.0" cy="103.2" r="1.0"/><circle cx="601.1" cy="91.2" r="1.0"/><circle cx="605.3" cy="82.7" r="1.0"/><circle cx="615.8" cy="103.3" r="1.0"/><circle cx="609.3" cy="96.1" r="1.0"/><circle cx="600.1" cy="96.9" r="1.0"/><circle cx="599.7" cy="95.8" r="1.0"/><circle cx="617.0" cy="83.8" r="1.0"/><circle cx="616.7" cy="90.6" r="1.0"/><circle cx="613.1" cy="78.7" r="1.0"/><circle cx="613.7" cy="112.6" r="1.0"/><circle cx="602.1" cy="95.5" r="1.0"/><circle cx="610.5" cy="90.6" r="1.0"/></g>
<path d="M595 153.8 L402.8 153.8 L398.5 170.6 L402.8 187.5 L595 187.5" fill="#fff" stroke="#4a4a4c" stroke-width="1.1"/>
<g fill="#69696b"><circle cx="485.3" cy="162.7" r="1.0"/><circle cx="504.3" cy="163.3" r="1.0"/><circle cx="541.1" cy="157.7" r="1.0"/><circle cx="452.9" cy="165.8" r="1.0"/><circle cx="488.3" cy="159.5" r="1.0"/><circle cx="594.4" cy="161.9" r="1.0"/><circle cx="571.5" cy="162.0" r="1.0"/><circle cx="543.0" cy="158.6" r="1.0"/><circle cx="542.4" cy="166.1" r="1.0"/><circle cx="526.3" cy="164.8" r="1.0"/><circle cx="547.7" cy="157.7" r="1.0"/><circle cx="560.2" cy="163.2" r="1.0"/><circle cx="494.4" cy="157.3" r="1.0"/><circle cx="575.6" cy="162.0" r="1.0"/><circle cx="554.5" cy="166.2" r="1.0"/><circle cx="553.8" cy="166.7" r="1.0"/><circle cx="507.9" cy="165.4" r="1.0"/><circle cx="515.0" cy="166.8" r="1.0"/><circle cx="577.6" cy="158.0" r="1.0"/><circle cx="470.6" cy="159.3" r="1.0"/><circle cx="590.0" cy="161.6" r="1.0"/><circle cx="541.2" cy="160.2" r="1.0"/><circle cx="524.0" cy="161.1" r="1.0"/><circle cx="501.5" cy="163.1" r="1.0"/><circle cx="535.1" cy="166.5" r="1.0"/><circle cx="549.2" cy="166.8" r="1.0"/><circle cx="574.3" cy="167.4" r="1.0"/><circle cx="547.7" cy="158.7" r="1.0"/><circle cx="574.9" cy="167.1" r="1.0"/><circle cx="581.3" cy="163.0" r="1.0"/><circle cx="553.8" cy="159.2" r="1.0"/><circle cx="570.8" cy="163.0" r="1.0"/><circle cx="492.0" cy="157.7" r="1.0"/><circle cx="574.0" cy="167.4" r="1.0"/><circle cx="463.7" cy="165.4" r="1.0"/><circle cx="510.1" cy="158.6" r="1.0"/><circle cx="493.3" cy="165.1" r="1.0"/><circle cx="576.7" cy="157.5" r="1.0"/><circle cx="539.5" cy="157.5" r="1.0"/><circle cx="554.5" cy="160.5" r="1.0"/><circle cx="577.9" cy="167.3" r="1.0"/><circle cx="523.8" cy="167.5" r="1.0"/><circle cx="495.6" cy="157.8" r="1.0"/><circle cx="537.4" cy="157.3" r="1.0"/><circle cx="479.4" cy="161.3" r="1.0"/><circle cx="538.9" cy="158.6" r="1.0"/><circle cx="457.1" cy="166.1" r="1.0"/><circle cx="496.2" cy="167.1" r="1.0"/><circle cx="580.1" cy="161.0" r="1.0"/><circle cx="517.3" cy="162.5" r="1.0"/><circle cx="543.7" cy="163.3" r="1.0"/><circle cx="531.5" cy="163.5" r="1.0"/><circle cx="586.4" cy="162.3" r="1.0"/><circle cx="513.1" cy="164.6" r="1.0"/><circle cx="485.2" cy="160.2" r="1.0"/><circle cx="591.8" cy="162.5" r="1.0"/><circle cx="530.0" cy="157.1" r="1.0"/><circle cx="510.8" cy="163.1" r="1.0"/><circle cx="453.9" cy="163.5" r="1.0"/><circle cx="542.0" cy="157.6" r="1.0"/><circle cx="541.3" cy="161.9" r="1.0"/><circle cx="548.8" cy="160.7" r="1.0"/><circle cx="552.8" cy="164.7" r="1.0"/><circle cx="454.2" cy="157.6" r="1.0"/><circle cx="548.3" cy="167.1" r="1.0"/><circle cx="487.2" cy="161.8" r="1.0"/><circle cx="536.3" cy="160.4" r="1.0"/><circle cx="503.4" cy="160.3" r="1.0"/><circle cx="504.2" cy="163.3" r="1.0"/><circle cx="494.3" cy="161.0" r="1.0"/><circle cx="562.2" cy="157.3" r="1.0"/><circle cx="533.0" cy="164.7" r="1.0"/><circle cx="495.6" cy="159.3" r="1.0"/><circle cx="566.7" cy="159.5" r="1.0"/><circle cx="478.0" cy="161.6" r="1.0"/></g>
<g fill="#69696b"><circle cx="543.7" cy="176.0" r="1.0"/><circle cx="479.7" cy="178.2" r="1.0"/><circle cx="566.7" cy="179.2" r="1.0"/><circle cx="570.4" cy="176.6" r="1.0"/><circle cx="482.2" cy="181.2" r="1.0"/><circle cx="575.4" cy="179.3" r="1.0"/><circle cx="463.3" cy="176.1" r="1.0"/><circle cx="515.0" cy="176.8" r="1.0"/><circle cx="562.2" cy="183.0" r="1.0"/><circle cx="456.2" cy="177.6" r="1.0"/><circle cx="562.2" cy="181.1" r="1.0"/><circle cx="562.1" cy="178.3" r="1.0"/><circle cx="447.0" cy="177.8" r="1.0"/><circle cx="560.0" cy="177.6" r="1.0"/><circle cx="483.9" cy="179.0" r="1.0"/><circle cx="496.4" cy="178.9" r="1.0"/><circle cx="581.5" cy="176.5" r="1.0"/><circle cx="425.8" cy="184.0" r="1.0"/><circle cx="574.6" cy="184.4" r="1.0"/><circle cx="498.8" cy="184.0" r="1.0"/><circle cx="582.7" cy="177.1" r="1.0"/><circle cx="551.7" cy="182.9" r="1.0"/><circle cx="537.7" cy="179.9" r="1.0"/><circle cx="474.1" cy="178.2" r="1.0"/><circle cx="463.7" cy="175.6" r="1.0"/><circle cx="525.1" cy="177.7" r="1.0"/><circle cx="562.7" cy="175.4" r="1.0"/><circle cx="578.6" cy="181.6" r="1.0"/><circle cx="582.1" cy="183.5" r="1.0"/><circle cx="577.9" cy="180.5" r="1.0"/><circle cx="427.2" cy="182.1" r="1.0"/><circle cx="454.2" cy="177.8" r="1.0"/><circle cx="537.7" cy="180.0" r="1.0"/><circle cx="495.3" cy="183.9" r="1.0"/><circle cx="529.1" cy="178.2" r="1.0"/><circle cx="467.9" cy="183.2" r="1.0"/><circle cx="506.1" cy="182.4" r="1.0"/><circle cx="484.8" cy="176.9" r="1.0"/><circle cx="515.9" cy="182.8" r="1.0"/><circle cx="454.1" cy="182.5" r="1.0"/><circle cx="581.7" cy="182.7" r="1.0"/><circle cx="565.0" cy="175.1" r="1.0"/><circle cx="531.9" cy="183.2" r="1.0"/><circle cx="433.5" cy="177.6" r="1.0"/><circle cx="470.7" cy="180.0" r="1.0"/><circle cx="496.9" cy="179.5" r="1.0"/><circle cx="557.0" cy="175.0" r="1.0"/><circle cx="434.3" cy="176.2" r="1.0"/><circle cx="446.2" cy="175.6" r="1.0"/><circle cx="590.7" cy="183.1" r="1.0"/><circle cx="439.6" cy="179.8" r="1.0"/><circle cx="478.7" cy="178.0" r="1.0"/><circle cx="484.7" cy="181.1" r="1.0"/><circle cx="524.7" cy="178.4" r="1.0"/><circle cx="457.5" cy="178.1" r="1.0"/><circle cx="446.0" cy="180.3" r="1.0"/><circle cx="546.7" cy="178.6" r="1.0"/><circle cx="438.6" cy="176.7" r="1.0"/><circle cx="488.5" cy="180.7" r="1.0"/><circle cx="558.0" cy="178.6" r="1.0"/><circle cx="561.2" cy="180.9" r="1.0"/><circle cx="498.4" cy="178.5" r="1.0"/><circle cx="509.3" cy="181.7" r="1.0"/><circle cx="496.5" cy="181.6" r="1.0"/><circle cx="503.3" cy="177.3" r="1.0"/><circle cx="516.1" cy="181.6" r="1.0"/><circle cx="437.2" cy="179.0" r="1.0"/><circle cx="497.4" cy="183.4" r="1.0"/><circle cx="584.2" cy="178.6" r="1.0"/><circle cx="577.6" cy="182.5" r="1.0"/><circle cx="469.6" cy="179.4" r="1.0"/><circle cx="445.9" cy="182.7" r="1.0"/><circle cx="537.6" cy="183.4" r="1.0"/><circle cx="559.7" cy="181.3" r="1.0"/><circle cx="549.7" cy="180.4" r="1.0"/><circle cx="442.5" cy="180.6" r="1.0"/><circle cx="425.8" cy="176.4" r="1.0"/><circle cx="556.6" cy="175.4" r="1.0"/><circle cx="440.6" cy="175.9" r="1.0"/><circle cx="574.7" cy="176.7" r="1.0"/></g>
<g fill="#7b7d81"><circle cx="625.6" cy="176.8" r="1.0"/><circle cx="629.8" cy="160.6" r="1.0"/><circle cx="627.5" cy="140.3" r="1.0"/><circle cx="598.7" cy="151.2" r="1.0"/><circle cx="620.8" cy="176.4" r="1.0"/><circle cx="606.7" cy="144.0" r="1.0"/><circle cx="607.0" cy="165.8" r="1.0"/><circle cx="629.2" cy="154.7" r="1.0"/><circle cx="612.2" cy="154.8" r="1.0"/><circle cx="611.4" cy="155.9" r="1.0"/><circle cx="599.7" cy="160.0" r="1.0"/><circle cx="628.9" cy="143.0" r="1.0"/><circle cx="626.4" cy="172.8" r="1.0"/><circle cx="625.6" cy="160.9" r="1.0"/><circle cx="617.3" cy="167.1" r="1.0"/><circle cx="600.2" cy="172.4" r="1.0"/><circle cx="636.3" cy="160.9" r="1.0"/><circle cx="615.5" cy="170.9" r="1.0"/><circle cx="604.2" cy="148.4" r="1.0"/><circle cx="604.8" cy="164.3" r="1.0"/><circle cx="609.9" cy="146.6" r="1.0"/><circle cx="609.0" cy="170.3" r="1.0"/><circle cx="614.2" cy="177.7" r="1.0"/><circle cx="621.7" cy="148.4" r="1.0"/><circle cx="617.1" cy="154.1" r="1.0"/><circle cx="603.6" cy="153.0" r="1.0"/><circle cx="610.2" cy="173.7" r="1.0"/><circle cx="617.1" cy="165.0" r="1.0"/><circle cx="616.6" cy="176.7" r="1.0"/><circle cx="632.2" cy="162.9" r="1.0"/><circle cx="617.2" cy="171.0" r="1.0"/><circle cx="633.7" cy="155.0" r="1.0"/><circle cx="616.6" cy="146.5" r="1.0"/><circle cx="606.3" cy="170.9" r="1.0"/><circle cx="633.6" cy="147.1" r="1.0"/><circle cx="604.3" cy="147.9" r="1.0"/><circle cx="604.2" cy="170.2" r="1.0"/><circle cx="607.2" cy="178.3" r="1.0"/><circle cx="609.8" cy="156.2" r="1.0"/><circle cx="608.8" cy="152.8" r="1.0"/><circle cx="621.5" cy="168.8" r="1.0"/><circle cx="615.2" cy="159.3" r="1.0"/><circle cx="605.2" cy="164.3" r="1.0"/><circle cx="620.0" cy="141.0" r="1.0"/><circle cx="608.1" cy="168.3" r="1.0"/><circle cx="630.0" cy="172.9" r="1.0"/><circle cx="609.0" cy="168.8" r="1.0"/><circle cx="624.8" cy="175.3" r="1.0"/><circle cx="607.7" cy="172.7" r="1.0"/><circle cx="619.6" cy="140.7" r="1.0"/><circle cx="617.7" cy="152.6" r="1.0"/><circle cx="627.6" cy="168.9" r="1.0"/><circle cx="620.9" cy="144.1" r="1.0"/><circle cx="624.4" cy="166.5" r="1.0"/><circle cx="624.8" cy="141.2" r="1.0"/><circle cx="610.6" cy="171.0" r="1.0"/><circle cx="622.3" cy="162.7" r="1.0"/><circle cx="624.5" cy="157.9" r="1.0"/><circle cx="609.7" cy="143.8" r="1.0"/><circle cx="599.0" cy="170.8" r="1.0"/><circle cx="629.2" cy="162.2" r="1.0"/><circle cx="628.5" cy="153.0" r="1.0"/><circle cx="607.7" cy="154.2" r="1.0"/><circle cx="618.2" cy="147.4" r="1.0"/><circle cx="629.8" cy="152.7" r="1.0"/><circle cx="610.6" cy="155.2" r="1.0"/><circle cx="619.8" cy="173.6" r="1.0"/><circle cx="611.5" cy="177.3" r="1.0"/><circle cx="600.9" cy="148.5" r="1.0"/><circle cx="630.3" cy="171.4" r="1.0"/><circle cx="604.1" cy="144.5" r="1.0"/><circle cx="614.3" cy="172.2" r="1.0"/><circle cx="631.9" cy="172.4" r="1.0"/><circle cx="622.0" cy="142.3" r="1.0"/><circle cx="613.5" cy="144.7" r="1.0"/><circle cx="619.2" cy="163.4" r="1.0"/><circle cx="604.9" cy="147.5" r="1.0"/><circle cx="620.3" cy="164.2" r="1.0"/><circle cx="626.2" cy="150.0" r="1.0"/><circle cx="633.8" cy="159.2" r="1.0"/><circle cx="622.5" cy="171.3" r="1.0"/></g>
<g fill="#7b7d81"><circle cx="615.2" cy="208.1" r="1.0"/><circle cx="611.2" cy="206.6" r="1.0"/><circle cx="601.6" cy="209.9" r="1.0"/><circle cx="597.1" cy="208.5" r="1.0"/><circle cx="614.7" cy="205.9" r="1.0"/><circle cx="597.5" cy="201.9" r="1.0"/><circle cx="602.8" cy="188.7" r="1.0"/><circle cx="605.4" cy="225.9" r="1.0"/><circle cx="600.7" cy="208.4" r="1.0"/><circle cx="616.3" cy="210.3" r="1.0"/><circle cx="608.2" cy="215.5" r="1.0"/><circle cx="604.8" cy="206.8" r="1.0"/><circle cx="616.9" cy="202.2" r="1.0"/><circle cx="606.8" cy="209.9" r="1.0"/><circle cx="613.3" cy="195.5" r="1.0"/><circle cx="609.3" cy="194.2" r="1.0"/><circle cx="602.1" cy="193.0" r="1.0"/><circle cx="607.7" cy="192.9" r="1.0"/><circle cx="600.9" cy="208.0" r="1.0"/><circle cx="609.0" cy="204.2" r="1.0"/><circle cx="607.7" cy="203.6" r="1.0"/><circle cx="602.3" cy="189.4" r="1.0"/><circle cx="609.8" cy="192.7" r="1.0"/><circle cx="614.1" cy="201.3" r="1.0"/></g>
<path d="M483.7 172.8 L540 172.3 Q585 172 595 177 Q603 182 608 191" fill="none" stroke="#2a2a2a" stroke-width="2.6" stroke-linecap="round"/>
<g transform="translate(623.2 202.8) rotate(-35)"><rect x="0" y="-15.4" width="102.5" height="30.8" fill="#e6e6e7"/><rect x="-9.5" y="-17.5" width="8" height="35" rx="3.5" fill="#6d6d6f" stroke="#444" stroke-width="0.8"/><line x1="102.5" y1="-16.5" x2="102.5" y2="16.5" stroke="#4a4a4c" stroke-width="2.4"/><path d="M103.5 -3.6 L108 -3.6 Q112.5 -4 115.5 -9 Q117.5 -12.2 120.5 -11.5 Q123.8 -10 123.8 0 Q123.8 10 120.5 11.5 Q117.5 12.2 115.5 9 Q112.5 4 108 3.6 L103.5 3.6 Z" fill="#58585a"/><g fill="#555"><rect x="94" y="-14.2" width="3" height="1.6" rx="0.8"/><rect x="94" y="12.6" width="3" height="1.6" rx="0.8"/><rect x="1" y="-14.2" width="3" height="1.6" rx="0.8"/><rect x="1" y="12.6" width="3" height="1.6" rx="0.8"/></g></g>
<path d="M209 366 L15 366 L10.6 383.4 L15 401 L209 401" fill="#fff" stroke="#4a4a4c" stroke-width="1.2"/>
<path d="M15 366.6 L51 366.6 Q52 370 54 371 Q58 372 59 375 L61 379 L62 387 Q66 389 70 390 Q73 393 74 395.5 Q76 398 77.5 400.4 L15 400.4 L11.2 383.4 Z" fill="#6e6e70"/>
<path d="M45.8 378.8 L100 377.8 L228 372.3 L228 395 L100 387.5 L45.8 388.5 Z" fill="#1fa293"/><rect x="50.5" y="378.8" width="2" height="9.6" fill="#113f3a"/><rect x="57.3" y="378.8" width="2" height="9.6" fill="#113f3a"/><rect x="64.1" y="378.8" width="2" height="9.6" fill="#113f3a"/><rect x="70.9" y="378.8" width="2" height="9.6" fill="#113f3a"/><path d="M78.0 379.4 L84.0 386.6 M84.0 379.4 L78.0 386.6" stroke="#154a44" stroke-width="1.3" fill="none"/><path d="M86.1 379.3 L92.1 386.4 M92.1 379.3 L86.1 386.4" stroke="#154a44" stroke-width="1.3" fill="none"/><path d="M94.2 379.1 L100.2 386.3 M100.2 379.1 L94.2 386.3" stroke="#154a44" stroke-width="1.3" fill="none"/><path d="M102.3 378.9 L108.3 386.8 M108.3 378.9 L102.3 386.8" stroke="#154a44" stroke-width="1.3" fill="none"/><path d="M110.4 378.6 L116.4 387.3 M116.4 378.6 L110.4 387.3" stroke="#154a44" stroke-width="1.3" fill="none"/><path d="M118.5 378.2 L124.5 387.7 M124.5 378.2 L118.5 387.7" stroke="#154a44" stroke-width="1.3" fill="none"/><path d="M126.6 377.9 L132.6 388.2 M132.6 377.9 L126.6 388.2" stroke="#154a44" stroke-width="1.3" fill="none"/><path d="M134.7 377.5 L140.7 388.7 M140.7 377.5 L134.7 388.7" stroke="#154a44" stroke-width="1.3" fill="none"/><path d="M142.8 377.2 L148.8 389.2 M148.8 377.2 L142.8 389.2" stroke="#154a44" stroke-width="1.3" fill="none"/><path d="M150.9 376.8 L156.9 389.6 M156.9 376.8 L150.9 389.6" stroke="#154a44" stroke-width="1.3" fill="none"/><path d="M159.0 376.5 L165.0 390.1 M165.0 376.5 L159.0 390.1" stroke="#154a44" stroke-width="1.3" fill="none"/><path d="M167.1 376.1 L173.1 390.6 M173.1 376.1 L167.1 390.6" stroke="#154a44" stroke-width="1.3" fill="none"/><path d="M175.2 375.8 L181.2 391.1 M181.2 375.8 L175.2 391.1" stroke="#154a44" stroke-width="1.3" fill="none"/><path d="M183.3 375.4 L189.3 391.5 M189.3 375.4 L183.3 391.5" stroke="#154a44" stroke-width="1.3" fill="none"/><path d="M191.4 375.1 L197.4 392.0 M197.4 375.1 L191.4 392.0" stroke="#154a44" stroke-width="1.3" fill="none"/><path d="M199.5 374.7 L205.5 392.5 M205.5 374.7 L199.5 392.5" stroke="#154a44" stroke-width="1.3" fill="none"/><path d="M207.6 374.4 L213.6 393.0 M213.6 374.4 L207.6 393.0" stroke="#154a44" stroke-width="1.3" fill="none"/><path d="M215.7 374.0 L221.7 393.4 M221.7 374.0 L215.7 393.4" stroke="#154a44" stroke-width="1.3" fill="none"/><rect x="222.8" y="373" width="1.6" height="21.5" fill="#1a3a36"/><path d="M228 372.3 L230.5 372 L248.6 372 L248.6 396.2 L230.5 396.2 L228 395 Z" fill="#1fa293" stroke="#136a60" stroke-width="0.6"/><rect x="248.6" y="375" width="4.2" height="15" fill="#b5b5b7" stroke="#666" stroke-width="0.5"/>
<path d="M252.5 369 Q252.5 366 255.5 366 L352 366 L352 410.3 L285.2 410.3 L272.7 405 L252.5 405 Z" fill="#7a7a7c"/>
<path d="M246.5 410 Q248 405 253 405 L272.7 405 L285.2 410.3 L352 410.3 L352 430.6 L290 430.6 Q287 431 287 434 L287 440 Q287 443.5 283.5 443.5 L253 443.5 Q246 443.5 245.5 437 Z" fill="#c9c9cb" stroke="#3a3a3a" stroke-width="1"/>
<path d="M253 405.6 L272.5 405.6 L285 410.9 L351 410.9 L351 415 L284 415 L271 409.6 L253 409.6 Z" fill="#e4e4e5"/>
<rect x="254.2" y="409.5" width="1.4" height="33.5" fill="#222"/><rect x="262.6" y="409.5" width="3.9" height="33.5" fill="#2a2a2a"/>
<circle cx="249.6" cy="436.8" r="3" fill="#333"/>
<g fill="#ec1c24"><path d="M84 331.6 L66.6 318 L66.6 325.6 L53 325.6 L53 338 L66.6 338 L66.6 345.7 Z"/><rect x="44" y="325.6" width="6.1" height="12.4"/><rect x="37.3" y="325.6" width="4.4" height="12.4"/><rect x="30.8" y="325.6" width="2.4" height="12.4"/></g>
<g id="anc"><path d="M595 367.7 L402.6 367.7 L398.8 385.6 L402.6 403.3 L595 403.3" fill="#69696b" stroke="#4a4a4c" stroke-width="1.3"/><rect x="406.4" y="369.5" width="10.4" height="31.3" fill="#cfcfd1"/><g stroke="#8a8a8c" stroke-width="0.8"><line x1="406.4" y1="372.2" x2="416.8" y2="372.2"/><line x1="406.4" y1="375.3" x2="416.8" y2="375.3"/><line x1="406.4" y1="378.4" x2="416.8" y2="378.4"/><line x1="406.4" y1="381.5" x2="416.8" y2="381.5"/><line x1="406.4" y1="384.6" x2="416.8" y2="384.6"/><line x1="406.4" y1="387.7" x2="416.8" y2="387.7"/><line x1="406.4" y1="390.8" x2="416.8" y2="390.8"/><line x1="406.4" y1="393.9" x2="416.8" y2="393.9"/><line x1="406.4" y1="397.0" x2="416.8" y2="397.0"/></g><rect x="406.4" y="369.5" width="2" height="31.3" fill="#9a9a9c"/><path d="M417.8 370 L439.6 379 L444.7 371.5 L444.7 399.8 L439.6 393 L417.8 401.2 Z" fill="#d3d3d5" stroke="#555" stroke-width="0.7"/><path d="M448.1 370 L467.1 379 L471.8 371.5 L471.8 399.8 L467.1 393 L448.1 401.2 Z" fill="#d3d3d5" stroke="#555" stroke-width="0.7"/><path d="M474.7 370 L492.7 379 L497.4 371.5 L497.4 399.8 L492.7 393 L474.7 401.2 Z" fill="#d3d3d5" stroke="#555" stroke-width="0.7"/><path d="M499 370 L510.7 379 L512.6 371.5 L512.6 399.8 L510.7 393 L499 401.2 Z" fill="#d3d3d5" stroke="#555" stroke-width="0.7"/><rect x="444.7" y="369.6" width="3.400000000000034" height="31.5" fill="#8e8e90" stroke="#555" stroke-width="0.6"/><rect x="471.8" y="369.6" width="2.8999999999999773" height="31.5" fill="#8e8e90" stroke="#555" stroke-width="0.6"/><rect x="497.4" y="369.6" width="1.6000000000000227" height="31.5" fill="#8e8e90" stroke="#555" stroke-width="0.6"/><path d="M512.6 374 L518.4 369.2 L518.4 401.2 L512.6 396.5 Z" fill="#b8b8ba" stroke="#555" stroke-width="0.6"/><rect x="518.4" y="369.2" width="65.6" height="32" fill="#d6d6d8" stroke="#555" stroke-width="0.8"/><rect x="519" y="369.8" width="64.5" height="1.6" fill="#ececed"/><rect x="584" y="369.2" width="10" height="32" fill="#d0d0d2" stroke="#555" stroke-width="0.7"/><g stroke="#77777a" stroke-width="0.8"><line x1="584" y1="372.5" x2="594" y2="372.5"/><line x1="584" y1="378.3" x2="594" y2="378.3"/><line x1="584" y1="384.1" x2="594" y2="384.1"/><line x1="584" y1="389.9" x2="594" y2="389.9"/><line x1="584" y1="395.7" x2="594" y2="395.7"/></g><text transform="translate(570.4 379) rotate(90)" font-size="8" font-weight="bold" fill="#1a1a1a" text-anchor="middle">fW</text><path d="M573 388 L576 393.5 L573 399 L570 393.5 Z" fill="none" stroke="#333" stroke-width="0.9"/></g>
<path d="M595 344 C597 341.5 602.5 342.5 602.8 347 C603 352 600.2 355 600.5 360 C600.8 365 604 367.5 604.5 371 L604.5 400 C604.2 404 601 407 601 411 C601 414 604.3 415 604.2 417 C603.8 420.5 598 421 595 419.5 Z" fill="#69696b"/>
<rect x="594.6" y="371.4" width="12" height="27.6" fill="#a8a8aa" stroke="#444" stroke-width="0.8"/>
<rect x="606.6" y="372.3" width="48.5" height="26.6" fill="#cdcdcf" stroke="#555" stroke-width="0.7"/><path d="M608.0 372.6 Q610.4 385.5 608.0 398.6" fill="none" stroke="#6a6a6c" stroke-width="0.8"/><path d="M611.1 372.6 Q613.5 385.5 611.1 398.6" fill="none" stroke="#6a6a6c" stroke-width="0.8"/><path d="M614.2 372.6 Q616.6 385.5 614.2 398.6" fill="none" stroke="#6a6a6c" stroke-width="0.8"/><path d="M617.3 372.6 Q619.7 385.5 617.3 398.6" fill="none" stroke="#6a6a6c" stroke-width="0.8"/><path d="M620.4 372.6 Q622.8 385.5 620.4 398.6" fill="none" stroke="#6a6a6c" stroke-width="0.8"/><path d="M623.5 372.6 Q625.9 385.5 623.5 398.6" fill="none" stroke="#6a6a6c" stroke-width="0.8"/><path d="M626.6 372.6 Q629.0 385.5 626.6 398.6" fill="none" stroke="#6a6a6c" stroke-width="0.8"/><path d="M629.7 372.6 Q632.1 385.5 629.7 398.6" fill="none" stroke="#6a6a6c" stroke-width="0.8"/><path d="M632.8 372.6 Q635.2 385.5 632.8 398.6" fill="none" stroke="#6a6a6c" stroke-width="0.8"/><path d="M635.9 372.6 Q638.3 385.5 635.9 398.6" fill="none" stroke="#6a6a6c" stroke-width="0.8"/><path d="M639.0 372.6 Q641.4 385.5 639.0 398.6" fill="none" stroke="#6a6a6c" stroke-width="0.8"/><path d="M642.1 372.6 Q644.5 385.5 642.1 398.6" fill="none" stroke="#6a6a6c" stroke-width="0.8"/><path d="M645.2 372.6 Q647.6 385.5 645.2 398.6" fill="none" stroke="#6a6a6c" stroke-width="0.8"/><path d="M648.3 372.6 Q650.7 385.5 648.3 398.6" fill="none" stroke="#6a6a6c" stroke-width="0.8"/><path d="M651.4 372.6 Q653.8 385.5 651.4 398.6" fill="none" stroke="#6a6a6c" stroke-width="0.8"/><path d="M654.5 372.6 Q656.9 385.5 654.5 398.6" fill="none" stroke="#6a6a6c" stroke-width="0.8"/>
<g fill="#ec1c24"><path d="M610 360 L611.2 349.5 L614.3 352.3 L624.8 341.2 L628.8 345 L618.2 355.8 L621 358.8 Z"/><path d="M610 410 L611.2 420.5 L614.3 417.7 L624.8 428.8 L628.8 425 L618.2 414.2 L621 411.2 Z"/><path d="M632.7 311.2 L644 302.8 L644 308.4 L657 308.4 L657 315 L644 315 L644 320.5 Z"/></g>
<path d="M655 315.8 L667 297.3 L674 297.3 L662 315.8 Z" fill="#fff" stroke="#e23a3f" stroke-width="0.5"/><path d="M667 297.3 L677.5 297.3 L689 315.8 L678.5 315.8 Z" fill="#ec1c24"/><path d="M683 315.8 L695 297.3 L702 297.3 L690 315.8 Z" fill="#fff" stroke="#e23a3f" stroke-width="0.5"/><path d="M695 297.3 L705.5 297.3 L717 315.8 L706.5 315.8 Z" fill="#ec1c24"/><path d="M711 315.8 L723 297.3 L728 297.3 L726 301 L717 315.8 Z" fill="#fff" stroke="#e23a3f" stroke-width="0.5"/><path d="M658 308.4 L662 308.4 L658.5 315 L655 315 Z" fill="#ec1c24"/>
<path d="M654.9 370.9 C658 366 663 360 668 355 C674 349 681 345 691.5 343 C700 342.5 710 346.5 717.8 348.9 C725 350.5 731 352 736 352.6 L736 437.5 C728 434 722 431 717.8 428.7 C711 425 706 423 703.2 421.3 C700 419.5 697 418 695.9 417 C696 421 693 426 688.5 426.5 C684 427 680 425 678.3 421.3 C677 426 671 432 663.7 433 C658 433.5 654 430 652 425.7 C650 423 648.5 420 649 418.4 C647 417 646.5 414 647.6 412.6 C644 411 640 408 638.8 403.8 C638.5 400 642 398 646.1 397.9 L655 397.9 Z" fill="#efc7a2" stroke="#3a3030" stroke-width="1.1"/>
<g fill="none" stroke="#3a3030" stroke-width="1" stroke-linecap="round"><path d="M690 362 C693 366 695 369 698 370 C705 371 712 372 718 374 C726 376 731 378 736 379"/><path d="M659.5 379 C665 375 675 376 683 381 C690 386 700 392 712 398 C722 402 730 405 736 406"/><path d="M701 386 C704 384 707 382 710 381"/><path d="M713 393 C715 389 719 388 722 389"/><path d="M727 397 C729 394 733 394 736 395"/><path d="M690 398 L687 404"/><path d="M694 399 L691 405"/><path d="M662 403 C672 406 682 410 695.9 417"/><path d="M652 411 C660 414 668 416 678.3 421.3"/></g>
<ellipse cx="672.3" cy="387" rx="10.3" ry="7.2" transform="rotate(20 672.3 387)" fill="#f7e6de" stroke="#3a3030" stroke-width="1"/>
<g fill="#fbeee8"><ellipse cx="641.8" cy="403" rx="2.2" ry="3.4" transform="rotate(30 641.8 403)"/><ellipse cx="650.5" cy="413.5" rx="2" ry="3.2" transform="rotate(40 650.5 413.5)"/><ellipse cx="656" cy="426.5" rx="2" ry="3" transform="rotate(50 656 426.5)"/><ellipse cx="679.8" cy="420.5" rx="1.6" ry="2.6"/></g>
<use href="#anc" transform="translate(-382 262.5)"/>
<g transform="translate(-384 263.6)"><path d="M595 344 C597 341.5 602.5 342.5 602.8 347 C603 352 600.2 355 600.5 360 C600.8 365 604 367.5 604.5 371 L604.5 400 C604.2 404 601 407 601 411 C601 414 604.3 415 604.2 417 C603.8 420.5 598 421 595 419.5 Z" fill="#69696b"/><rect x="594.6" y="371.4" width="12" height="27.6" fill="#a8a8aa" stroke="#444" stroke-width="0.8"/><rect x="606.6" y="372.3" width="45" height="26.6" fill="#cdcdcf" stroke="#555" stroke-width="0.7"/><path d="M608.0 372.6 Q610.4 385.5 608.0 398.6" fill="none" stroke="#6a6a6c" stroke-width="0.8"/><path d="M611.1 372.6 Q613.5 385.5 611.1 398.6" fill="none" stroke="#6a6a6c" stroke-width="0.8"/><path d="M614.2 372.6 Q616.6 385.5 614.2 398.6" fill="none" stroke="#6a6a6c" stroke-width="0.8"/><path d="M617.3 372.6 Q619.7 385.5 617.3 398.6" fill="none" stroke="#6a6a6c" stroke-width="0.8"/><path d="M620.4 372.6 Q622.8 385.5 620.4 398.6" fill="none" stroke="#6a6a6c" stroke-width="0.8"/><path d="M623.5 372.6 Q625.9 385.5 623.5 398.6" fill="none" stroke="#6a6a6c" stroke-width="0.8"/><path d="M626.6 372.6 Q629.0 385.5 626.6 398.6" fill="none" stroke="#6a6a6c" stroke-width="0.8"/><path d="M629.7 372.6 Q632.1 385.5 629.7 398.6" fill="none" stroke="#6a6a6c" stroke-width="0.8"/><path d="M632.8 372.6 Q635.2 385.5 632.8 398.6" fill="none" stroke="#6a6a6c" stroke-width="0.8"/><path d="M635.9 372.6 Q638.3 385.5 635.9 398.6" fill="none" stroke="#6a6a6c" stroke-width="0.8"/><path d="M639.0 372.6 Q641.4 385.5 639.0 398.6" fill="none" stroke="#6a6a6c" stroke-width="0.8"/><path d="M642.1 372.6 Q644.5 385.5 642.1 398.6" fill="none" stroke="#6a6a6c" stroke-width="0.8"/><path d="M645.2 372.6 Q647.6 385.5 645.2 398.6" fill="none" stroke="#6a6a6c" stroke-width="0.8"/><path d="M648.3 372.6 Q650.7 385.5 648.3 398.6" fill="none" stroke="#6a6a6c" stroke-width="0.8"/><path d="M651.4 372.6 Q653.8 385.5 651.4 398.6" fill="none" stroke="#6a6a6c" stroke-width="0.8"/><path d="M654.5 372.6 Q656.9 385.5 654.5 398.6" fill="none" stroke="#6a6a6c" stroke-width="0.8"/><path d="M651.6 372.3 L655 375.5 L655 395.8 L651.6 399" fill="#cdcdcf" stroke="#555" stroke-width="0.7"/><rect x="655.6" y="375.4" width="5.7" height="17.9" fill="#e2e2e3" stroke="#555" stroke-width="0.8"/></g>
<text x="252.5" y="572.3" font-size="20.5" fill="#14142a" textLength="57.3" lengthAdjust="spacingAndGlyphs">+20 °C</text>
<path d="M317.4 575.2 L317.4 547.6 A6.3 6.3 0 0 1 330 547.6 L330 575.2 A12.4 12.4 0 1 1 317.4 575.2 Z" fill="#fff" stroke="#8a8a8a" stroke-width="0.9"/>
<path d="M318.1 558.8 L329.3 558.8 L329.3 575.8 A11.7 11.7 0 1 1 318.1 575.8 Z" fill="#e31e26"/>
<path d="M296.4 655.8 C297 650 300 643 303 637.8 C306 632 310 627 313.5 625.4 C318 623 322 622.5 326 622.6 C331 622.8 335 623.5 338 624.5 C343 626 347 626.5 351 627.3 L351 675.2 C347 674 343 673 340 672 C336 671 333 670.5 330 670 C327 672 322 672.5 320 670 C316 673 311 673.5 309 671 C305 670 303 667 303 663 C299 662 296 659 296.4 655.8 Z" fill="#efc7a2" stroke="#3a3030" stroke-width="1"/>
<g fill="none" stroke="#3a3030" stroke-width="0.9"><path d="M309 645 C312 640 318 640 322 643"/><path d="M333 638 C338 639 344 640 351 641"/><path d="M337 648 C341 647 346 648 351 650"/><path d="M328 655 L333 651"/><path d="M300 659 C304 657 307 652 310 650"/></g>
<ellipse cx="313" cy="647" rx="3.3" ry="3.5" fill="#f7e6de"/>
<g stroke="#e8202a" stroke-width="6" stroke-linecap="round"><line x1="306" y1="669.5" x2="341.5" y2="624"/><line x1="317" y1="626.3" x2="335" y2="660.5"/></g>
<circle cx="311.2" cy="715.3" r="20.8" fill="#e8202a" stroke="#5a1a1a" stroke-width="0.6"/>
<path d="M311.2 715.3 L290.4 715.3 A20.8 20.8 0 0 1 311.2 694.5 Z" fill="#fff"/>
<g stroke="#111" stroke-width="1.4"><line x1="311.2" y1="694.3" x2="311.2" y2="698"/><line x1="311.2" y1="732.6" x2="311.2" y2="736.3"/><line x1="290.2" y1="715.3" x2="293.9" y2="715.3"/><line x1="328.5" y1="715.3" x2="332.2" y2="715.3"/></g>
<text x="281" y="757" font-size="20" fill="#14142a" textLength="64" lengthAdjust="spacingAndGlyphs">45 min.</text>
<use href="#anc" transform="translate(0 262.3)"/>
<path d="M594.4 575.5 L620.2 575.5 L620.2 721.4 L660.9 721.4 L660.9 747.5 L594.4 747.5 Z" fill="#c6b596"/>
<rect x="594.4" y="630.6" width="25.8" height="34.4" fill="#59595b"/>
<rect x="595" y="633.9" width="10.7" height="26.7" fill="#a0a0a2" stroke="#444" stroke-width="0.6"/>
<rect x="605.7" y="633.9" width="14.3" height="26.7" fill="#cdcdcf"/><path d="M607.0 634.2 Q609.6 647 607.0 660.3" fill="none" stroke="#6a6a6c" stroke-width="0.8"/><path d="M610.1 634.2 Q612.7 647 610.1 660.3" fill="none" stroke="#6a6a6c" stroke-width="0.8"/><path d="M613.2 634.2 Q615.8 647 613.2 660.3" fill="none" stroke="#6a6a6c" stroke-width="0.8"/><path d="M616.3 634.2 Q618.9 647 616.3 660.3" fill="none" stroke="#6a6a6c" stroke-width="0.8"/><path d="M619.4 634.2 Q622.0 647 619.4 660.3" fill="none" stroke="#6a6a6c" stroke-width="0.8"/>
<rect x="619.8" y="618.3" width="7" height="58.4" fill="#d9d9db" stroke="#444" stroke-width="0.9"/>
<rect x="626.8" y="623.2" width="21.7" height="48.1" fill="#bdbdbf" stroke="#444" stroke-width="0.9"/>
<rect x="628.2" y="623.8" width="19.5" height="8.6" rx="3" fill="#d3d3d5" stroke="#555" stroke-width="0.7"/>
<rect x="628.2" y="662.2" width="19.5" height="8.6" rx="3" fill="#d3d3d5" stroke="#555" stroke-width="0.7"/>
<path d="M628.2 632.8 L645 632.8 Q648.5 647.5 645 661.8 L628.2 661.8 Z" fill="#dedee0" stroke="#555" stroke-width="0.7"/>
<path d="M648.5 630 L654 633 L657 637.5 L657 657 L654 661.5 L648.5 664.5 Z" fill="#b9b9bb" stroke="#444" stroke-width="0.8"/>
<rect x="657" y="638" width="4.8" height="17.3" fill="#d5d5d7" stroke="#444" stroke-width="0.8"/>
<path d="M679.6 619.8 Q692 626 704.2 628.5 L704.2 668 Q692 670 679.6 674.5 Z" fill="#8e8e90" stroke="#333" stroke-width="0.9"/>
<rect x="663.5" y="619.5" width="16.1" height="55" rx="1.5" fill="#707072" stroke="#333" stroke-width="0.9"/>
<rect x="704.2" y="632.8" width="4.5" height="27.8" fill="#9a9a9c" stroke="#333" stroke-width="0.7"/>
<path d="M713.8 675 L725.6 675 L722.6 763 L712.7 763 Z" fill="#8a8a8c" stroke="#333" stroke-width="0.9"/>
<rect x="708" y="618.2" width="19.7" height="58.5" rx="9" fill="#6e6e70" stroke="#333" stroke-width="0.9"/>
<rect x="725.5" y="630" width="3" height="35" fill="#5a5a5c"/>
<text transform="translate(720.5 657.4) rotate(-90)" font-size="8.5" font-weight="bold" fill="#f2f2f2" text-anchor="middle">Nm</text>
<text x="677" y="591.2" font-size="22.5" fill="#14142a" textLength="10" lengthAdjust="spacingAndGlyphs">T</text>
<text x="687.2" y="591.2" font-size="15" fill="#14142a" textLength="24.5" lengthAdjust="spacingAndGlyphs">inst</text>
<rect x="3" y="2.1" width="349.3" height="233.9" fill="none" stroke="#4a4a4c" stroke-width="1.8"/>
<line x1="3" y1="118.5" x2="352.3" y2="118.5" stroke="#4a4a4c" stroke-width="2"/>
<rect x="386.2" y="2.2" width="349.7" height="232.8" fill="none" stroke="#4a4a4c" stroke-width="1.8"/>
<line x1="386.2" y1="118" x2="735.9" y2="118" stroke="#4a4a4c" stroke-width="2"/>
<path d="M-3 269 L351.4 269 L351.4 498.2" fill="none" stroke="#4a4a4c" stroke-width="1.8"/>
<line x1="0" y1="498.1" x2="352.3" y2="498.1" stroke="#505052" stroke-width="1.1"/>
<rect x="386.5" y="269" width="350.70000000000005" height="232" fill="none" stroke="#4a4a4c" stroke-width="1.8"/>
<rect x="4.9" y="533.2" width="346.3" height="230.5999999999999" fill="none" stroke="#4a4a4c" stroke-width="1.8"/>
<rect x="387.7" y="533.3" width="347.09999999999997" height="229.70000000000005" fill="none" stroke="#4a4a4c" stroke-width="1.8"/>
</svg>
</body></html>
